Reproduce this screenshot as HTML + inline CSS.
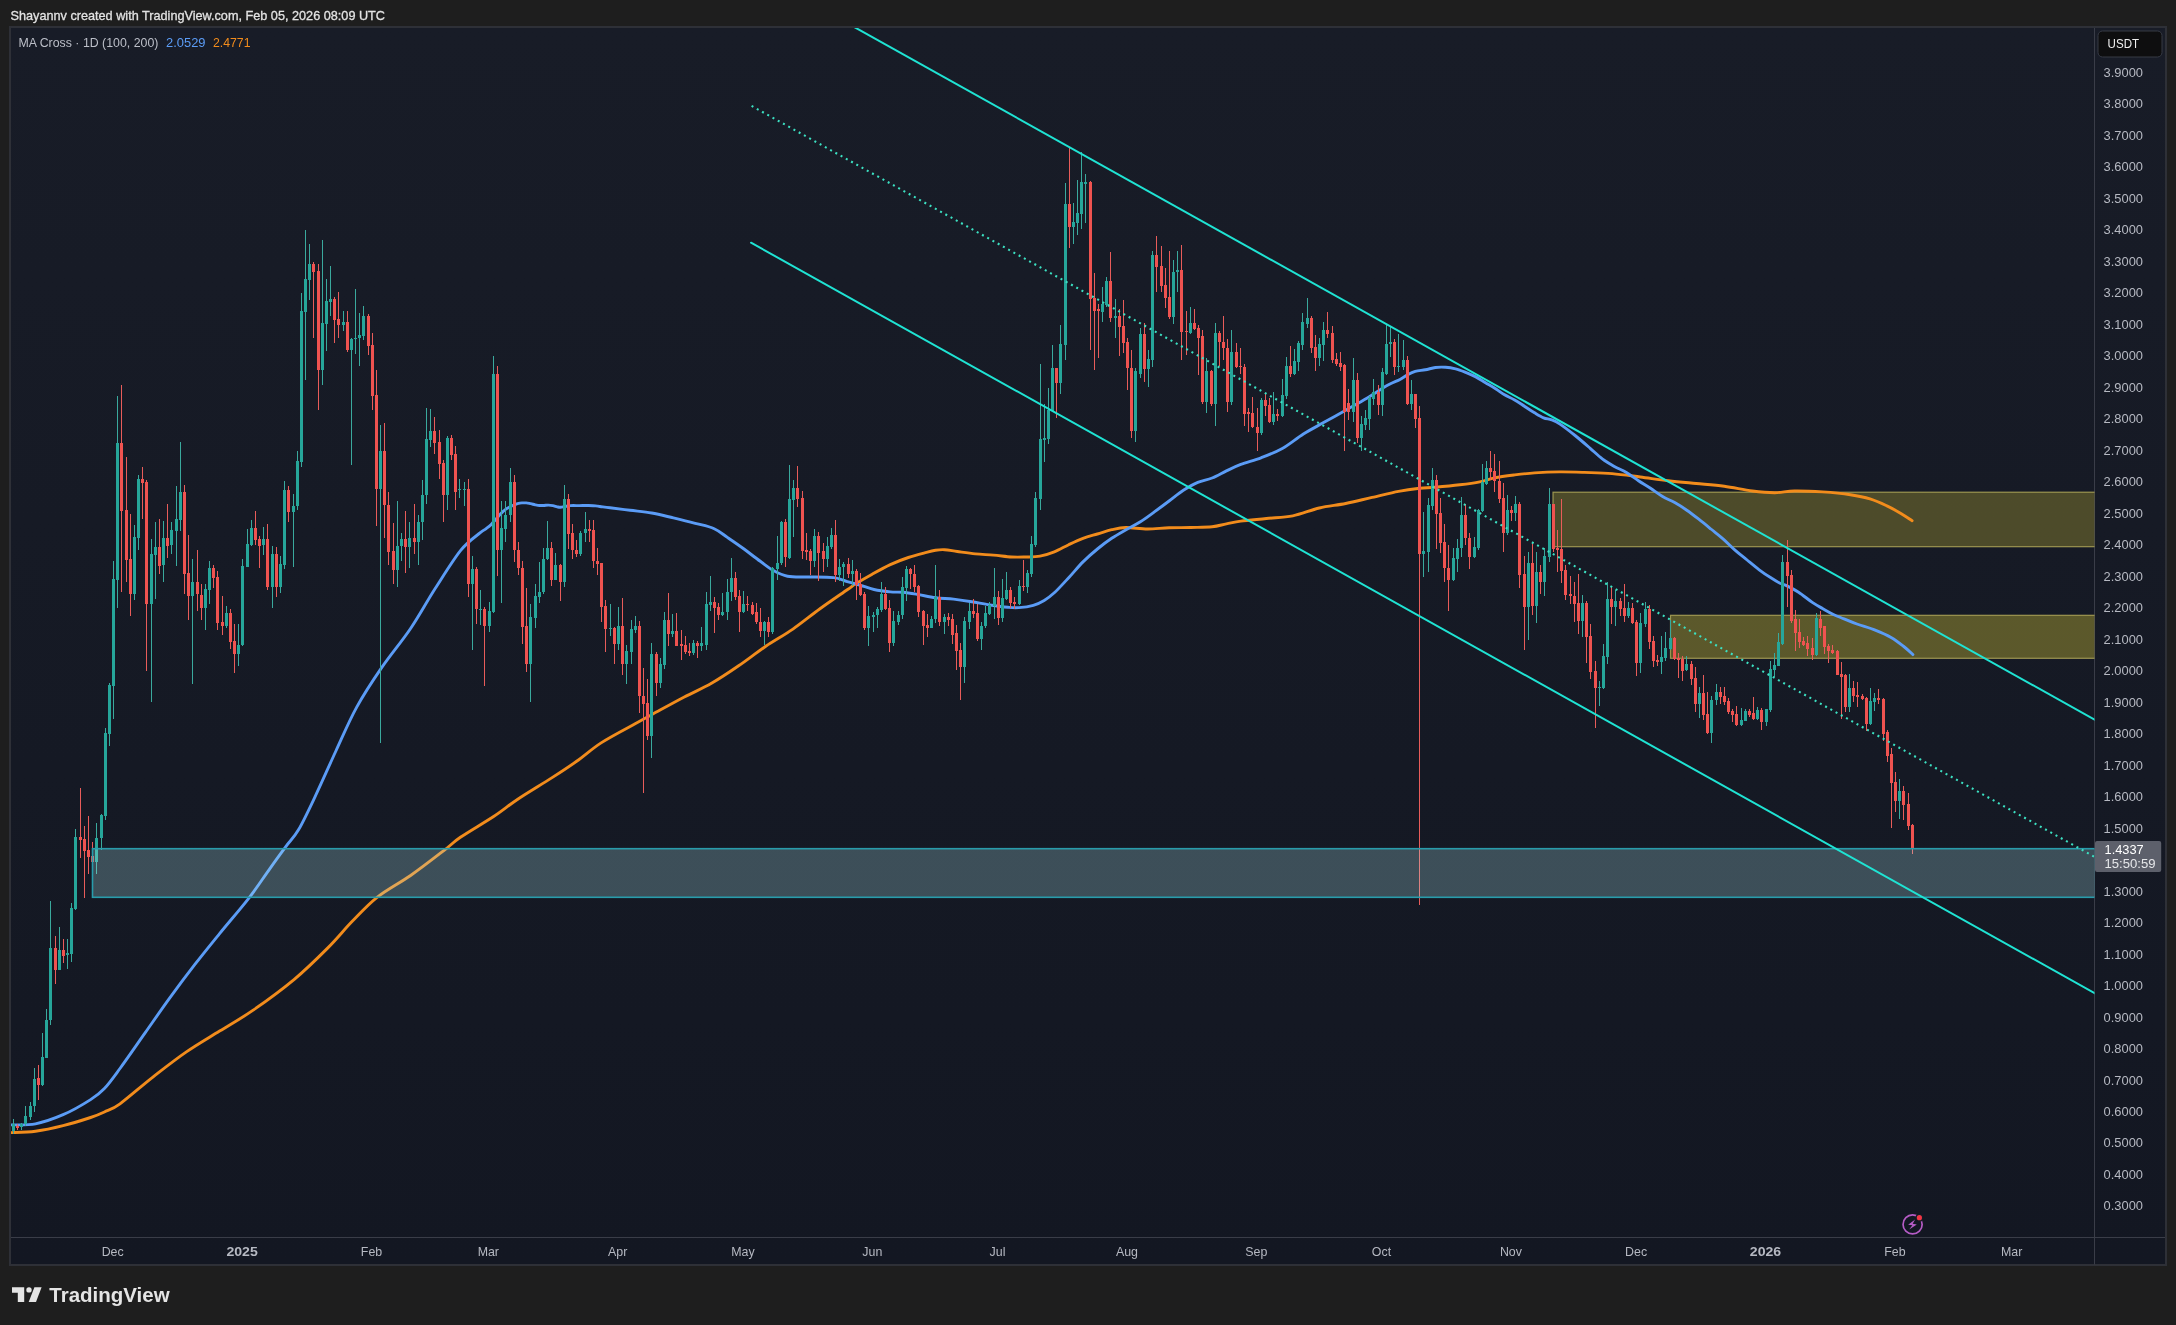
<!DOCTYPE html><html><head><meta charset="utf-8"><title>TradingView chart</title>
<style>html,body{margin:0;padding:0;background:#1e1e1e;overflow:hidden}svg{display:block;will-change:transform}text{font-family:"Liberation Sans",sans-serif}</style></head><body>
<svg width="2176" height="1325" viewBox="0 0 2176 1325">
<defs><linearGradient id="bg" x1="0" y1="0" x2="0" y2="1"><stop offset="0" stop-color="#181c27"/><stop offset="1" stop-color="#131722"/></linearGradient>
<clipPath id="pane"><rect x="11" y="28" width="2083.5" height="1209.5"/></clipPath><clipPath id="yz"><rect x="1553.6" y="492.8" width="545" height="53.3"/><rect x="1671.1" y="615.9" width="430" height="41.8"/></clipPath></defs>
<rect width="2176" height="1325" fill="#1e1e1e"/>
<text id="hdr" x="10.5" y="20.3" font-size="13.6" fill="#e3e3e3" stroke="#e3e3e3" stroke-width="0.3" textLength="374.5" lengthAdjust="spacingAndGlyphs">Shayannv created with TradingView.com, Feb 05, 2026 08:09 UTC</text>
<rect x="10" y="27" width="2156" height="1238" fill="url(#bg)" stroke="#2e3037" stroke-width="2"/>
<line x1="11" y1="1237.5" x2="2165" y2="1237.5" stroke="#3a3d48" stroke-width="1"/>
<line x1="2094.5" y1="28" x2="2094.5" y2="1264.5" stroke="#3a3d48" stroke-width="1"/>
<g clip-path="url(#pane)">
<rect x="1553" y="492.2" width="545" height="54.5" fill="rgba(255,235,59,0.24)" stroke="rgba(190,180,95,0.75)" stroke-width="1.2"/>
<rect x="1670.5" y="615.3" width="430" height="43" fill="rgba(255,235,59,0.30)" stroke="rgba(190,180,95,0.75)" stroke-width="1.2"/>
<path d="M10.8,1132.6C14.9,1132.4 26.8,1132.3 35.5,1131.2C44.2,1130.1 53.9,1128.0 63.1,1125.7C72.3,1123.4 83.7,1119.8 90.6,1117.5C97.5,1115.2 99.5,1114.3 104.4,1112.0C109.3,1109.7 111.9,1109.7 120.0,1103.8C128.1,1097.9 142.1,1085.4 153.2,1076.8C164.3,1068.2 175.3,1059.5 186.4,1051.9C197.5,1044.3 208.5,1038.0 219.6,1031.1C230.7,1024.2 240.4,1019.0 252.8,1010.4C265.2,1001.8 281.8,989.7 294.3,979.3C306.8,968.9 317.9,957.8 327.6,948.1C337.3,938.4 344.2,929.6 352.5,921.1C360.8,912.6 367.7,904.7 377.4,897.1C387.1,889.5 399.5,883.2 410.6,875.5C421.7,867.8 435.5,857.0 443.8,850.6C452.1,844.2 452.1,843.0 460.4,837.3C468.7,831.6 483.9,822.9 493.6,816.5C503.3,810.1 508.8,805.1 518.5,798.7C528.2,792.3 542.0,784.1 551.7,777.9C561.4,771.7 568.3,767.2 576.6,761.3C584.9,755.4 591.8,748.8 601.5,742.6C611.2,736.4 626.3,728.6 634.7,724.0C643.1,719.4 643.4,719.2 651.7,714.7C660.0,710.2 674.3,702.2 684.3,697.0C694.3,691.8 702.5,688.5 711.5,683.3C720.5,678.1 729.6,672.0 738.6,665.8C747.6,659.6 756.8,652.4 765.8,646.3C774.8,640.2 783.9,635.4 792.9,629.1C801.9,622.9 811.0,615.3 820.0,608.8C829.0,602.2 841.2,594.0 847.2,589.8C853.2,585.6 851.7,586.2 855.9,583.6C860.1,581.0 866.5,577.4 872.2,574.2C877.9,571.0 884.3,567.4 890.3,564.6C896.3,561.8 902.4,559.5 908.4,557.5C914.4,555.5 922.0,553.6 926.5,552.4C931.0,551.2 932.5,550.8 935.5,550.3C938.5,549.8 941.0,549.5 944.6,549.7C948.2,549.9 952.2,550.8 957.3,551.5C962.4,552.2 969.4,553.3 975.4,553.9C981.4,554.5 987.5,554.6 993.5,555.1C999.5,555.6 1006.2,556.7 1011.6,557.0C1017.0,557.3 1021.3,557.1 1026.0,557.0C1030.7,556.9 1035.3,557.1 1040.0,556.2C1044.7,555.4 1049.5,553.8 1054.3,551.9C1059.1,550.0 1063.9,547.0 1068.7,544.7C1073.5,542.4 1078.2,540.1 1083.0,538.3C1087.8,536.5 1092.6,535.4 1097.4,534.0C1102.2,532.6 1106.9,530.8 1111.7,529.7C1116.5,528.6 1120.0,527.6 1126.0,527.5C1132.0,527.4 1140.4,529.0 1147.6,529.0C1154.8,529.0 1161.9,528.0 1169.1,527.8C1176.3,527.5 1183.4,527.7 1190.6,527.5C1197.8,527.3 1206.1,527.4 1212.1,526.8C1218.1,526.2 1221.6,524.8 1226.4,523.9C1231.2,523.0 1234.1,522.0 1240.8,521.1C1247.5,520.2 1257.7,519.4 1266.4,518.5C1275.1,517.6 1284.0,517.6 1292.8,515.9C1301.6,514.1 1310.5,510.1 1319.3,508.0C1328.1,505.9 1336.9,505.3 1345.7,503.5C1354.5,501.7 1363.3,499.4 1372.1,497.4C1380.9,495.4 1390.6,492.8 1398.5,491.3C1406.4,489.8 1413.6,488.9 1419.7,488.2C1425.8,487.5 1428.2,487.9 1434.9,487.3C1441.6,486.7 1452.3,485.7 1459.8,484.8C1467.3,483.9 1474.0,483.0 1479.8,481.8C1485.6,480.6 1488.9,479.0 1494.7,477.8C1500.5,476.6 1508.1,475.7 1514.7,474.9C1521.3,474.1 1527.1,473.4 1534.6,472.9C1542.1,472.4 1551.2,472.0 1559.5,471.9C1567.8,471.8 1575.6,472.1 1584.4,472.4C1593.2,472.7 1602.8,472.8 1612.1,473.6C1621.4,474.4 1630.8,475.8 1640.2,477.0C1649.6,478.2 1658.9,479.6 1668.2,480.7C1677.5,481.8 1686.9,482.6 1696.2,483.5C1705.5,484.4 1715.0,485.1 1724.3,486.3C1733.6,487.6 1743.9,489.9 1752.3,491.0C1760.7,492.1 1767.7,492.7 1774.7,492.7C1781.7,492.7 1786.5,491.1 1794.4,491.0C1802.4,490.9 1813.1,491.3 1822.4,491.9C1831.7,492.5 1842.5,493.5 1850.4,494.7C1858.3,495.9 1863.9,497.0 1870.0,498.9C1876.1,500.8 1881.8,503.5 1886.9,505.9C1892.1,508.3 1896.7,511.0 1900.9,513.5C1905.1,516.0 1910.2,519.5 1912.1,520.7" fill="none" stroke="#f28c1c" stroke-width="2.9" stroke-linejoin="round" stroke-linecap="round"/><path d="M10.8,1124.9C14.9,1124.7 26.8,1125.5 35.5,1123.8C44.2,1122.1 53.9,1118.7 63.1,1114.7C72.3,1110.7 83.7,1104.0 90.6,1099.6C97.5,1095.2 99.5,1093.7 104.4,1088.5C109.3,1083.3 113.2,1077.7 120.0,1068.5C126.8,1059.3 136.6,1045.0 144.9,1033.2C153.2,1021.4 161.5,1009.3 169.8,997.9C178.1,986.5 186.4,975.4 194.7,964.7C203.0,954.0 210.6,944.7 219.6,933.6C228.6,922.5 240.4,909.0 248.7,898.3C257.0,887.6 263.2,877.9 269.4,869.3C275.6,860.6 281.1,853.0 286.0,846.4C290.9,839.8 293.6,838.1 298.5,829.8C303.4,821.5 308.9,809.7 315.1,796.6C321.3,783.5 329.0,765.9 335.9,751.0C342.8,736.1 349.0,721.2 356.6,707.4C364.2,693.5 372.5,681.0 381.5,667.9C390.5,654.8 401.6,641.8 410.6,628.5C419.6,615.2 427.1,601.0 435.5,588.0C443.9,575.0 453.3,559.6 460.7,550.4C468.1,541.2 475.9,536.4 480.0,532.9C484.1,529.4 483.7,530.5 485.5,529.1C487.3,527.7 489.4,526.3 491.0,524.7C492.6,523.1 494.0,521.3 495.4,519.7C496.8,518.1 497.9,516.8 499.3,515.3C500.7,513.8 502.1,512.2 503.7,510.9C505.3,509.6 507.1,508.5 508.7,507.6C510.3,506.7 511.6,506.0 513.1,505.4C514.6,504.8 516.0,504.1 517.5,503.7C519.0,503.3 520.4,503.0 521.9,502.9C523.4,502.8 524.8,502.8 526.3,502.9C527.8,503.0 529.2,503.4 530.7,503.7C532.2,504.0 533.7,504.5 535.2,504.8C536.7,505.1 538.1,505.4 539.6,505.5C541.1,505.6 542.5,505.6 544.0,505.5C545.5,505.4 546.9,505.1 548.4,505.1C549.9,505.1 551.3,505.3 552.8,505.6C554.3,505.9 555.9,506.5 557.2,506.8C558.5,507.1 559.2,507.4 560.5,507.3C561.8,507.2 563.2,506.8 564.9,506.5C566.6,506.2 568.1,505.8 570.5,505.6C572.9,505.5 576.4,505.6 579.3,505.6C582.1,505.6 584.9,505.4 587.6,505.5C590.4,505.6 593.7,505.7 595.8,505.9C597.9,506.1 597.6,506.2 600.0,506.5C602.4,506.8 605.0,507.2 610.0,507.8C615.0,508.4 623.0,509.4 630.0,510.3C637.0,511.2 644.5,511.7 651.7,513.0C658.9,514.3 666.1,516.2 673.4,517.9C680.6,519.6 688.4,521.5 695.2,523.3C702.0,525.1 708.8,526.3 714.2,528.7C719.6,531.1 722.7,534.2 727.7,537.6C732.7,541.0 738.6,545.0 744.0,549.0C749.4,553.0 755.3,557.7 760.3,561.3C765.3,564.9 769.4,568.3 773.9,570.8C778.4,573.3 782.1,575.2 787.5,576.2C792.9,577.2 798.8,576.8 806.5,577.0C814.2,577.2 826.8,576.8 833.6,577.6C840.4,578.4 842.9,580.4 847.2,581.6C851.5,582.8 855.0,583.7 859.5,585.0C864.0,586.3 868.9,588.4 874.0,589.5C879.1,590.6 885.5,591.4 890.3,591.9C895.1,592.4 898.4,591.9 902.9,592.3C907.4,592.7 912.0,593.5 917.4,594.4C922.8,595.3 929.5,596.9 935.5,597.7C941.5,598.5 947.6,598.4 953.6,599.1C959.6,599.8 965.7,600.7 971.7,601.7C977.7,602.7 983.8,604.1 989.8,605.0C995.8,605.9 1003.2,606.9 1008.0,607.3C1012.8,607.7 1014.6,607.9 1018.8,607.6C1023.0,607.3 1029.1,606.5 1033.3,605.3C1037.5,604.1 1040.7,602.5 1044.2,600.4C1047.7,598.3 1050.2,596.6 1054.3,592.8C1058.4,589.0 1063.9,582.9 1068.7,577.7C1073.5,572.6 1078.2,566.7 1083.0,561.9C1087.8,557.1 1092.6,552.9 1097.4,549.0C1102.2,545.1 1106.9,541.5 1111.7,538.3C1116.5,535.1 1121.2,532.5 1126.0,529.7C1130.8,527.0 1135.6,524.8 1140.4,521.8C1145.2,518.8 1149.9,515.2 1154.7,511.7C1159.5,508.2 1164.3,504.6 1169.1,501.0C1173.9,497.4 1178.6,493.3 1183.4,490.2C1188.2,487.1 1193.0,484.3 1197.8,482.3C1202.6,480.3 1207.3,479.9 1212.1,478.0C1216.9,476.1 1221.6,473.2 1226.4,470.9C1231.2,468.6 1235.0,466.6 1240.8,464.4C1246.6,462.2 1254.2,460.4 1261.1,457.8C1268.0,455.2 1275.2,452.5 1282.3,448.5C1289.3,444.5 1296.4,438.4 1303.4,434.0C1310.4,429.6 1317.5,426.1 1324.5,422.1C1331.5,418.1 1338.7,414.2 1345.7,410.2C1352.8,406.2 1359.8,402.5 1366.8,398.3C1373.8,394.1 1382.5,388.2 1388.0,385.1C1393.5,382.0 1396.7,381.2 1400.0,379.4C1403.3,377.6 1405.6,375.8 1408.1,374.4C1410.6,373.0 1412.3,372.1 1415.2,371.3C1418.1,370.5 1421.9,370.4 1425.3,369.8C1428.7,369.2 1432.0,367.9 1435.4,367.5C1438.8,367.1 1442.1,367.1 1445.5,367.3C1448.9,367.5 1452.2,368.0 1455.6,368.8C1459.0,369.6 1462.3,371.0 1465.7,372.4C1469.1,373.8 1472.4,375.1 1475.8,376.9C1479.2,378.7 1482.5,381.0 1485.9,383.0C1489.3,385.0 1493.0,387.1 1496.0,389.0C1499.0,390.9 1501.1,392.8 1504.1,394.6C1507.1,396.4 1510.8,397.8 1514.2,399.7C1517.6,401.6 1521.0,404.0 1524.4,406.2C1527.8,408.4 1531.3,410.9 1534.5,412.8C1537.7,414.7 1540.7,416.6 1543.6,417.8C1546.5,419.0 1549.0,418.8 1551.7,419.9C1554.4,420.9 1556.1,421.5 1560.0,424.1C1563.9,426.7 1570.1,431.5 1575.1,435.5C1580.1,439.5 1585.7,444.4 1590.2,448.3C1594.7,452.2 1598.3,455.8 1602.3,458.8C1606.3,461.8 1610.3,464.1 1614.3,466.4C1618.3,468.7 1622.4,470.0 1626.4,472.4C1630.4,474.8 1634.5,478.0 1638.5,480.7C1642.5,483.4 1646.5,485.6 1650.5,488.3C1654.5,491.0 1658.6,494.2 1662.6,496.6C1666.6,499.0 1670.7,500.3 1674.7,502.6C1678.7,504.9 1682.8,507.4 1686.8,510.2C1690.8,513.0 1694.8,516.1 1698.8,519.2C1702.8,522.3 1706.9,525.7 1710.9,529.0C1714.9,532.3 1719.0,535.3 1723.0,538.8C1727.0,542.3 1731.0,546.6 1735.0,550.1C1739.0,553.6 1743.1,556.7 1747.1,560.0C1751.1,563.3 1755.2,566.8 1759.2,569.8C1763.2,572.8 1767.8,575.9 1771.3,578.1C1774.8,580.4 1777.5,582.0 1780.0,583.3C1782.5,584.5 1783.4,584.1 1786.5,585.6C1789.6,587.1 1794.3,589.4 1798.6,592.2C1802.9,595.0 1808.2,599.6 1812.3,602.4C1816.3,605.1 1819.4,606.7 1822.9,608.7C1826.4,610.7 1829.9,612.8 1833.4,614.5C1836.9,616.2 1840.1,617.2 1844.0,618.8C1847.9,620.4 1851.7,622.1 1856.9,624.0C1862.1,625.9 1869.4,627.9 1875.2,630.2C1881.0,632.5 1886.7,635.0 1891.5,637.7C1896.3,640.4 1900.2,643.7 1903.8,646.5C1907.4,649.3 1911.4,653.2 1912.9,654.6" fill="none" stroke="#5b9cf6" stroke-width="2.9" stroke-linejoin="round" stroke-linecap="round"/>
<rect x="13" y="1119" width="1" height="15" fill="#3aa99d"/><rect x="12" y="1124" width="3" height="7" fill="#26a69a"/>
<rect x="17" y="1124" width="1" height="6" fill="#e85c5a"/><rect x="16" y="1126" width="3" height="2" fill="#ef5350"/>
<rect x="21" y="1123" width="1" height="7" fill="#3aa99d"/><rect x="20" y="1124" width="3" height="3" fill="#26a69a"/>
<rect x="25" y="1106" width="1" height="20" fill="#3aa99d"/><rect x="24" y="1116" width="3" height="8" fill="#26a69a"/>
<rect x="30" y="1102" width="1" height="18" fill="#3aa99d"/><rect x="29" y="1106" width="3" height="11" fill="#26a69a"/>
<rect x="34" y="1068" width="1" height="44" fill="#3aa99d"/><rect x="33" y="1079" width="3" height="27" fill="#26a69a"/>
<rect x="38" y="1065" width="1" height="35" fill="#e85c5a"/><rect x="37" y="1078" width="3" height="7" fill="#ef5350"/>
<rect x="42" y="1033" width="1" height="53" fill="#3aa99d"/><rect x="41" y="1057" width="3" height="28" fill="#26a69a"/>
<rect x="46" y="1009" width="1" height="49" fill="#3aa99d"/><rect x="45" y="1020" width="3" height="38" fill="#26a69a"/>
<rect x="50" y="901" width="1" height="124" fill="#3aa99d"/><rect x="49" y="948" width="3" height="72" fill="#26a69a"/>
<rect x="55" y="936" width="1" height="48" fill="#e85c5a"/><rect x="54" y="948" width="3" height="22" fill="#ef5350"/>
<rect x="59" y="927" width="1" height="43" fill="#3aa99d"/><rect x="58" y="950" width="3" height="20" fill="#26a69a"/>
<rect x="63" y="939" width="1" height="24" fill="#e85c5a"/><rect x="62" y="950" width="3" height="6" fill="#ef5350"/>
<rect x="67" y="939" width="1" height="30" fill="#3aa99d"/><rect x="66" y="953" width="3" height="2" fill="#26a69a"/>
<rect x="71" y="903" width="1" height="59" fill="#3aa99d"/><rect x="70" y="908" width="3" height="46" fill="#26a69a"/>
<rect x="75" y="829" width="1" height="81" fill="#3aa99d"/><rect x="74" y="837" width="3" height="72" fill="#26a69a"/>
<rect x="80" y="788" width="1" height="70" fill="#e85c5a"/><rect x="79" y="837" width="3" height="3" fill="#ef5350"/>
<rect x="84" y="826" width="1" height="72" fill="#e85c5a"/><rect x="83" y="839" width="3" height="12" fill="#ef5350"/>
<rect x="88" y="816" width="1" height="58" fill="#e85c5a"/><rect x="87" y="850" width="3" height="7" fill="#ef5350"/>
<rect x="92" y="842" width="1" height="21" fill="#e85c5a"/><rect x="91" y="856" width="3" height="6" fill="#ef5350"/>
<rect x="96" y="823" width="1" height="51" fill="#3aa99d"/><rect x="95" y="838" width="3" height="24" fill="#26a69a"/>
<rect x="101" y="814" width="1" height="36" fill="#3aa99d"/><rect x="100" y="815" width="3" height="23" fill="#26a69a"/>
<rect x="105" y="728" width="1" height="92" fill="#3aa99d"/><rect x="104" y="733" width="3" height="83" fill="#26a69a"/>
<rect x="109" y="683" width="1" height="63" fill="#3aa99d"/><rect x="108" y="685" width="3" height="49" fill="#26a69a"/>
<rect x="113" y="561" width="1" height="158" fill="#3aa99d"/><rect x="112" y="579" width="3" height="107" fill="#26a69a"/>
<rect x="117" y="396" width="1" height="212" fill="#3aa99d"/><rect x="116" y="443" width="3" height="137" fill="#26a69a"/>
<rect x="121" y="385" width="1" height="207" fill="#e85c5a"/><rect x="120" y="443" width="3" height="68" fill="#ef5350"/>
<rect x="126" y="457" width="1" height="125" fill="#e85c5a"/><rect x="125" y="510" width="3" height="50" fill="#ef5350"/>
<rect x="130" y="514" width="1" height="102" fill="#e85c5a"/><rect x="129" y="559" width="3" height="35" fill="#ef5350"/>
<rect x="134" y="525" width="1" height="75" fill="#3aa99d"/><rect x="133" y="537" width="3" height="57" fill="#26a69a"/>
<rect x="138" y="475" width="1" height="75" fill="#3aa99d"/><rect x="137" y="479" width="3" height="59" fill="#26a69a"/>
<rect x="142" y="467" width="1" height="52" fill="#e85c5a"/><rect x="141" y="479" width="3" height="4" fill="#ef5350"/>
<rect x="146" y="480" width="1" height="191" fill="#e85c5a"/><rect x="145" y="482" width="3" height="122" fill="#ef5350"/>
<rect x="151" y="539" width="1" height="163" fill="#3aa99d"/><rect x="150" y="554" width="3" height="50" fill="#26a69a"/>
<rect x="155" y="522" width="1" height="77" fill="#3aa99d"/><rect x="154" y="547" width="3" height="8" fill="#26a69a"/>
<rect x="159" y="519" width="1" height="55" fill="#e85c5a"/><rect x="158" y="547" width="3" height="19" fill="#ef5350"/>
<rect x="163" y="521" width="1" height="61" fill="#3aa99d"/><rect x="162" y="538" width="3" height="27" fill="#26a69a"/>
<rect x="167" y="504" width="1" height="54" fill="#e85c5a"/><rect x="166" y="538" width="3" height="8" fill="#ef5350"/>
<rect x="171" y="522" width="1" height="32" fill="#3aa99d"/><rect x="170" y="530" width="3" height="15" fill="#26a69a"/>
<rect x="176" y="486" width="1" height="80" fill="#3aa99d"/><rect x="175" y="519" width="3" height="12" fill="#26a69a"/>
<rect x="180" y="442" width="1" height="89" fill="#3aa99d"/><rect x="179" y="492" width="3" height="28" fill="#26a69a"/>
<rect x="184" y="485" width="1" height="109" fill="#e85c5a"/><rect x="183" y="492" width="3" height="82" fill="#ef5350"/>
<rect x="188" y="535" width="1" height="85" fill="#e85c5a"/><rect x="187" y="573" width="3" height="23" fill="#ef5350"/>
<rect x="192" y="559" width="1" height="125" fill="#3aa99d"/><rect x="191" y="582" width="3" height="14" fill="#26a69a"/>
<rect x="197" y="550" width="1" height="61" fill="#e85c5a"/><rect x="196" y="582" width="3" height="12" fill="#ef5350"/>
<rect x="201" y="584" width="1" height="36" fill="#e85c5a"/><rect x="200" y="595" width="3" height="13" fill="#ef5350"/>
<rect x="205" y="584" width="1" height="46" fill="#3aa99d"/><rect x="204" y="589" width="3" height="19" fill="#26a69a"/>
<rect x="209" y="561" width="1" height="43" fill="#3aa99d"/><rect x="208" y="568" width="3" height="22" fill="#26a69a"/>
<rect x="213" y="565" width="1" height="23" fill="#e85c5a"/><rect x="212" y="568" width="3" height="10" fill="#ef5350"/>
<rect x="217" y="571" width="1" height="59" fill="#e85c5a"/><rect x="216" y="577" width="3" height="46" fill="#ef5350"/>
<rect x="222" y="596" width="1" height="39" fill="#e85c5a"/><rect x="221" y="622" width="3" height="4" fill="#ef5350"/>
<rect x="226" y="606" width="1" height="22" fill="#3aa99d"/><rect x="225" y="613" width="3" height="13" fill="#26a69a"/>
<rect x="230" y="609" width="1" height="40" fill="#e85c5a"/><rect x="229" y="613" width="3" height="29" fill="#ef5350"/>
<rect x="234" y="624" width="1" height="49" fill="#e85c5a"/><rect x="233" y="641" width="3" height="13" fill="#ef5350"/>
<rect x="238" y="624" width="1" height="42" fill="#3aa99d"/><rect x="237" y="645" width="3" height="9" fill="#26a69a"/>
<rect x="242" y="559" width="1" height="87" fill="#3aa99d"/><rect x="241" y="566" width="3" height="79" fill="#26a69a"/>
<rect x="247" y="529" width="1" height="38" fill="#3aa99d"/><rect x="246" y="544" width="3" height="23" fill="#26a69a"/>
<rect x="251" y="520" width="1" height="26" fill="#3aa99d"/><rect x="250" y="528" width="3" height="17" fill="#26a69a"/>
<rect x="255" y="511" width="1" height="34" fill="#e85c5a"/><rect x="254" y="528" width="3" height="12" fill="#ef5350"/>
<rect x="259" y="536" width="1" height="32" fill="#e85c5a"/><rect x="258" y="539" width="3" height="7" fill="#ef5350"/>
<rect x="263" y="527" width="1" height="28" fill="#3aa99d"/><rect x="262" y="539" width="3" height="6" fill="#26a69a"/>
<rect x="267" y="524" width="1" height="66" fill="#e85c5a"/><rect x="266" y="539" width="3" height="48" fill="#ef5350"/>
<rect x="272" y="546" width="1" height="62" fill="#3aa99d"/><rect x="271" y="554" width="3" height="33" fill="#26a69a"/>
<rect x="276" y="547" width="1" height="50" fill="#e85c5a"/><rect x="275" y="554" width="3" height="33" fill="#ef5350"/>
<rect x="280" y="556" width="1" height="37" fill="#3aa99d"/><rect x="279" y="564" width="3" height="23" fill="#26a69a"/>
<rect x="284" y="481" width="1" height="88" fill="#3aa99d"/><rect x="283" y="490" width="3" height="75" fill="#26a69a"/>
<rect x="288" y="486" width="1" height="36" fill="#e85c5a"/><rect x="287" y="490" width="3" height="22" fill="#ef5350"/>
<rect x="293" y="494" width="1" height="73" fill="#3aa99d"/><rect x="292" y="506" width="3" height="6" fill="#26a69a"/>
<rect x="297" y="451" width="1" height="59" fill="#3aa99d"/><rect x="296" y="461" width="3" height="45" fill="#26a69a"/>
<rect x="301" y="293" width="1" height="174" fill="#3aa99d"/><rect x="300" y="311" width="3" height="151" fill="#26a69a"/>
<rect x="305" y="230" width="1" height="150" fill="#3aa99d"/><rect x="304" y="279" width="3" height="33" fill="#26a69a"/>
<rect x="309" y="244" width="1" height="56" fill="#3aa99d"/><rect x="308" y="264" width="3" height="16" fill="#26a69a"/>
<rect x="313" y="262" width="1" height="76" fill="#e85c5a"/><rect x="312" y="264" width="3" height="8" fill="#ef5350"/>
<rect x="318" y="264" width="1" height="146" fill="#e85c5a"/><rect x="317" y="271" width="3" height="99" fill="#ef5350"/>
<rect x="322" y="240" width="1" height="145" fill="#3aa99d"/><rect x="321" y="323" width="3" height="47" fill="#26a69a"/>
<rect x="326" y="279" width="1" height="72" fill="#3aa99d"/><rect x="325" y="301" width="3" height="23" fill="#26a69a"/>
<rect x="330" y="266" width="1" height="50" fill="#3aa99d"/><rect x="329" y="299" width="3" height="3" fill="#26a69a"/>
<rect x="334" y="297" width="1" height="46" fill="#e85c5a"/><rect x="333" y="299" width="3" height="21" fill="#ef5350"/>
<rect x="338" y="292" width="1" height="46" fill="#e85c5a"/><rect x="337" y="319" width="3" height="6" fill="#ef5350"/>
<rect x="343" y="311" width="1" height="20" fill="#3aa99d"/><rect x="342" y="322" width="3" height="3" fill="#26a69a"/>
<rect x="347" y="311" width="1" height="41" fill="#e85c5a"/><rect x="346" y="322" width="3" height="28" fill="#ef5350"/>
<rect x="351" y="338" width="1" height="127" fill="#3aa99d"/><rect x="350" y="339" width="3" height="11" fill="#26a69a"/>
<rect x="355" y="289" width="1" height="65" fill="#3aa99d"/><rect x="354" y="338" width="3" height="1" fill="#26a69a"/>
<rect x="359" y="313" width="1" height="53" fill="#3aa99d"/><rect x="358" y="335" width="3" height="3" fill="#26a69a"/>
<rect x="363" y="306" width="1" height="34" fill="#3aa99d"/><rect x="362" y="316" width="3" height="20" fill="#26a69a"/>
<rect x="368" y="314" width="1" height="41" fill="#e85c5a"/><rect x="367" y="316" width="3" height="30" fill="#ef5350"/>
<rect x="372" y="333" width="1" height="77" fill="#e85c5a"/><rect x="371" y="345" width="3" height="51" fill="#ef5350"/>
<rect x="376" y="370" width="1" height="156" fill="#e85c5a"/><rect x="375" y="395" width="3" height="94" fill="#ef5350"/>
<rect x="380" y="425" width="1" height="318" fill="#3aa99d"/><rect x="379" y="451" width="3" height="38" fill="#26a69a"/>
<rect x="384" y="423" width="1" height="115" fill="#e85c5a"/><rect x="383" y="451" width="3" height="54" fill="#ef5350"/>
<rect x="388" y="492" width="1" height="73" fill="#e85c5a"/><rect x="387" y="505" width="3" height="47" fill="#ef5350"/>
<rect x="393" y="523" width="1" height="61" fill="#e85c5a"/><rect x="392" y="551" width="3" height="19" fill="#ef5350"/>
<rect x="397" y="501" width="1" height="86" fill="#3aa99d"/><rect x="396" y="546" width="3" height="24" fill="#26a69a"/>
<rect x="401" y="533" width="1" height="28" fill="#3aa99d"/><rect x="400" y="539" width="3" height="7" fill="#26a69a"/>
<rect x="405" y="511" width="1" height="62" fill="#e85c5a"/><rect x="404" y="539" width="3" height="8" fill="#ef5350"/>
<rect x="409" y="522" width="1" height="46" fill="#3aa99d"/><rect x="408" y="538" width="3" height="9" fill="#26a69a"/>
<rect x="414" y="504" width="1" height="50" fill="#e85c5a"/><rect x="413" y="538" width="3" height="4" fill="#ef5350"/>
<rect x="418" y="515" width="1" height="50" fill="#3aa99d"/><rect x="417" y="522" width="3" height="20" fill="#26a69a"/>
<rect x="422" y="480" width="1" height="60" fill="#3aa99d"/><rect x="421" y="495" width="3" height="27" fill="#26a69a"/>
<rect x="426" y="408" width="1" height="96" fill="#3aa99d"/><rect x="425" y="439" width="3" height="56" fill="#26a69a"/>
<rect x="430" y="409" width="1" height="38" fill="#3aa99d"/><rect x="429" y="431" width="3" height="9" fill="#26a69a"/>
<rect x="434" y="417" width="1" height="37" fill="#e85c5a"/><rect x="433" y="431" width="3" height="12" fill="#ef5350"/>
<rect x="439" y="430" width="1" height="49" fill="#e85c5a"/><rect x="438" y="442" width="3" height="22" fill="#ef5350"/>
<rect x="443" y="460" width="1" height="62" fill="#e85c5a"/><rect x="442" y="463" width="3" height="32" fill="#ef5350"/>
<rect x="447" y="436" width="1" height="74" fill="#3aa99d"/><rect x="446" y="438" width="3" height="57" fill="#26a69a"/>
<rect x="451" y="435" width="1" height="25" fill="#e85c5a"/><rect x="450" y="438" width="3" height="17" fill="#ef5350"/>
<rect x="455" y="446" width="1" height="64" fill="#e85c5a"/><rect x="454" y="454" width="3" height="38" fill="#ef5350"/>
<rect x="459" y="479" width="1" height="19" fill="#3aa99d"/><rect x="458" y="489" width="3" height="1" fill="#26a69a"/>
<rect x="464" y="482" width="1" height="24" fill="#3aa99d"/><rect x="463" y="489" width="3" height="1" fill="#26a69a"/>
<rect x="468" y="479" width="1" height="118" fill="#e85c5a"/><rect x="467" y="489" width="3" height="95" fill="#ef5350"/>
<rect x="472" y="556" width="1" height="94" fill="#3aa99d"/><rect x="471" y="569" width="3" height="15" fill="#26a69a"/>
<rect x="476" y="567" width="1" height="57" fill="#e85c5a"/><rect x="475" y="569" width="3" height="40" fill="#ef5350"/>
<rect x="480" y="590" width="1" height="35" fill="#3aa99d"/><rect x="479" y="609" width="3" height="1" fill="#26a69a"/>
<rect x="484" y="607" width="1" height="79" fill="#e85c5a"/><rect x="483" y="609" width="3" height="17" fill="#ef5350"/>
<rect x="489" y="602" width="1" height="30" fill="#3aa99d"/><rect x="488" y="611" width="3" height="15" fill="#26a69a"/>
<rect x="493" y="356" width="1" height="257" fill="#3aa99d"/><rect x="492" y="374" width="3" height="238" fill="#26a69a"/>
<rect x="497" y="366" width="1" height="210" fill="#e85c5a"/><rect x="496" y="374" width="3" height="176" fill="#ef5350"/>
<rect x="501" y="501" width="1" height="102" fill="#3aa99d"/><rect x="500" y="528" width="3" height="22" fill="#26a69a"/>
<rect x="505" y="501" width="1" height="41" fill="#3aa99d"/><rect x="504" y="515" width="3" height="14" fill="#26a69a"/>
<rect x="510" y="468" width="1" height="54" fill="#3aa99d"/><rect x="509" y="482" width="3" height="33" fill="#26a69a"/>
<rect x="514" y="475" width="1" height="87" fill="#e85c5a"/><rect x="513" y="482" width="3" height="68" fill="#ef5350"/>
<rect x="518" y="542" width="1" height="33" fill="#e85c5a"/><rect x="517" y="550" width="3" height="18" fill="#ef5350"/>
<rect x="522" y="561" width="1" height="83" fill="#e85c5a"/><rect x="521" y="568" width="3" height="59" fill="#ef5350"/>
<rect x="526" y="588" width="1" height="84" fill="#e85c5a"/><rect x="525" y="626" width="3" height="38" fill="#ef5350"/>
<rect x="530" y="604" width="1" height="98" fill="#3aa99d"/><rect x="529" y="617" width="3" height="47" fill="#26a69a"/>
<rect x="535" y="584" width="1" height="44" fill="#3aa99d"/><rect x="534" y="596" width="3" height="22" fill="#26a69a"/>
<rect x="539" y="562" width="1" height="41" fill="#3aa99d"/><rect x="538" y="592" width="3" height="5" fill="#26a69a"/>
<rect x="543" y="548" width="1" height="46" fill="#3aa99d"/><rect x="542" y="559" width="3" height="33" fill="#26a69a"/>
<rect x="547" y="521" width="1" height="39" fill="#3aa99d"/><rect x="546" y="548" width="3" height="11" fill="#26a69a"/>
<rect x="551" y="542" width="1" height="44" fill="#e85c5a"/><rect x="550" y="548" width="3" height="32" fill="#ef5350"/>
<rect x="555" y="553" width="1" height="27" fill="#3aa99d"/><rect x="554" y="565" width="3" height="15" fill="#26a69a"/>
<rect x="560" y="564" width="1" height="37" fill="#e85c5a"/><rect x="559" y="565" width="3" height="17" fill="#ef5350"/>
<rect x="564" y="485" width="1" height="102" fill="#3aa99d"/><rect x="563" y="499" width="3" height="83" fill="#26a69a"/>
<rect x="568" y="494" width="1" height="55" fill="#e85c5a"/><rect x="567" y="499" width="3" height="35" fill="#ef5350"/>
<rect x="572" y="524" width="1" height="35" fill="#e85c5a"/><rect x="571" y="533" width="3" height="17" fill="#ef5350"/>
<rect x="576" y="540" width="1" height="17" fill="#e85c5a"/><rect x="575" y="550" width="3" height="4" fill="#ef5350"/>
<rect x="580" y="531" width="1" height="25" fill="#3aa99d"/><rect x="579" y="533" width="3" height="21" fill="#26a69a"/>
<rect x="585" y="512" width="1" height="30" fill="#3aa99d"/><rect x="584" y="529" width="3" height="4" fill="#26a69a"/>
<rect x="589" y="520" width="1" height="22" fill="#e85c5a"/><rect x="588" y="529" width="3" height="2" fill="#ef5350"/>
<rect x="593" y="520" width="1" height="48" fill="#e85c5a"/><rect x="592" y="530" width="3" height="31" fill="#ef5350"/>
<rect x="597" y="548" width="1" height="27" fill="#e85c5a"/><rect x="596" y="561" width="3" height="3" fill="#ef5350"/>
<rect x="601" y="563" width="1" height="59" fill="#e85c5a"/><rect x="600" y="563" width="3" height="44" fill="#ef5350"/>
<rect x="605" y="600" width="1" height="52" fill="#e85c5a"/><rect x="604" y="606" width="3" height="23" fill="#ef5350"/>
<rect x="610" y="604" width="1" height="32" fill="#3aa99d"/><rect x="609" y="628" width="3" height="1" fill="#26a69a"/>
<rect x="614" y="627" width="1" height="37" fill="#e85c5a"/><rect x="613" y="628" width="3" height="16" fill="#ef5350"/>
<rect x="618" y="607" width="1" height="43" fill="#3aa99d"/><rect x="617" y="626" width="3" height="18" fill="#26a69a"/>
<rect x="622" y="598" width="1" height="77" fill="#e85c5a"/><rect x="621" y="626" width="3" height="38" fill="#ef5350"/>
<rect x="626" y="645" width="1" height="39" fill="#3aa99d"/><rect x="625" y="651" width="3" height="13" fill="#26a69a"/>
<rect x="631" y="620" width="1" height="44" fill="#3aa99d"/><rect x="630" y="629" width="3" height="23" fill="#26a69a"/>
<rect x="635" y="616" width="1" height="17" fill="#3aa99d"/><rect x="634" y="626" width="3" height="4" fill="#26a69a"/>
<rect x="639" y="621" width="1" height="92" fill="#e85c5a"/><rect x="638" y="626" width="3" height="70" fill="#ef5350"/>
<rect x="643" y="668" width="1" height="125" fill="#e85c5a"/><rect x="642" y="696" width="3" height="8" fill="#ef5350"/>
<rect x="647" y="679" width="1" height="61" fill="#e85c5a"/><rect x="646" y="703" width="3" height="33" fill="#ef5350"/>
<rect x="651" y="643" width="1" height="115" fill="#3aa99d"/><rect x="650" y="654" width="3" height="82" fill="#26a69a"/>
<rect x="656" y="652" width="1" height="44" fill="#e85c5a"/><rect x="655" y="654" width="3" height="29" fill="#ef5350"/>
<rect x="660" y="658" width="1" height="30" fill="#3aa99d"/><rect x="659" y="664" width="3" height="19" fill="#26a69a"/>
<rect x="664" y="612" width="1" height="57" fill="#3aa99d"/><rect x="663" y="620" width="3" height="45" fill="#26a69a"/>
<rect x="668" y="593" width="1" height="53" fill="#e85c5a"/><rect x="667" y="620" width="3" height="14" fill="#ef5350"/>
<rect x="672" y="614" width="1" height="23" fill="#3aa99d"/><rect x="671" y="631" width="3" height="3" fill="#26a69a"/>
<rect x="676" y="613" width="1" height="33" fill="#e85c5a"/><rect x="675" y="631" width="3" height="15" fill="#ef5350"/>
<rect x="681" y="630" width="1" height="30" fill="#e85c5a"/><rect x="680" y="644" width="3" height="2" fill="#ef5350"/>
<rect x="685" y="636" width="1" height="18" fill="#e85c5a"/><rect x="684" y="645" width="3" height="7" fill="#ef5350"/>
<rect x="689" y="643" width="1" height="13" fill="#e85c5a"/><rect x="688" y="651" width="3" height="2" fill="#ef5350"/>
<rect x="693" y="640" width="1" height="15" fill="#3aa99d"/><rect x="692" y="643" width="3" height="10" fill="#26a69a"/>
<rect x="697" y="641" width="1" height="17" fill="#e85c5a"/><rect x="696" y="643" width="3" height="3" fill="#ef5350"/>
<rect x="701" y="627" width="1" height="24" fill="#3aa99d"/><rect x="700" y="643" width="3" height="3" fill="#26a69a"/>
<rect x="706" y="592" width="1" height="58" fill="#3aa99d"/><rect x="705" y="604" width="3" height="41" fill="#26a69a"/>
<rect x="710" y="576" width="1" height="35" fill="#3aa99d"/><rect x="709" y="602" width="3" height="3" fill="#26a69a"/>
<rect x="714" y="597" width="1" height="36" fill="#e85c5a"/><rect x="713" y="602" width="3" height="6" fill="#ef5350"/>
<rect x="718" y="603" width="1" height="17" fill="#e85c5a"/><rect x="717" y="607" width="3" height="8" fill="#ef5350"/>
<rect x="722" y="593" width="1" height="23" fill="#3aa99d"/><rect x="721" y="612" width="3" height="3" fill="#26a69a"/>
<rect x="727" y="579" width="1" height="41" fill="#3aa99d"/><rect x="726" y="592" width="3" height="20" fill="#26a69a"/>
<rect x="731" y="558" width="1" height="43" fill="#3aa99d"/><rect x="730" y="578" width="3" height="14" fill="#26a69a"/>
<rect x="735" y="572" width="1" height="28" fill="#e85c5a"/><rect x="734" y="578" width="3" height="19" fill="#ef5350"/>
<rect x="739" y="590" width="1" height="42" fill="#e85c5a"/><rect x="738" y="596" width="3" height="16" fill="#ef5350"/>
<rect x="743" y="591" width="1" height="22" fill="#3aa99d"/><rect x="742" y="604" width="3" height="8" fill="#26a69a"/>
<rect x="747" y="596" width="1" height="15" fill="#e85c5a"/><rect x="746" y="604" width="3" height="1" fill="#ef5350"/>
<rect x="752" y="602" width="1" height="13" fill="#e85c5a"/><rect x="751" y="605" width="3" height="9" fill="#ef5350"/>
<rect x="756" y="603" width="1" height="21" fill="#e85c5a"/><rect x="755" y="612" width="3" height="10" fill="#ef5350"/>
<rect x="760" y="608" width="1" height="29" fill="#e85c5a"/><rect x="759" y="622" width="3" height="9" fill="#ef5350"/>
<rect x="764" y="621" width="1" height="24" fill="#3aa99d"/><rect x="763" y="622" width="3" height="9" fill="#26a69a"/>
<rect x="768" y="617" width="1" height="20" fill="#e85c5a"/><rect x="767" y="622" width="3" height="10" fill="#ef5350"/>
<rect x="772" y="567" width="1" height="67" fill="#3aa99d"/><rect x="771" y="568" width="3" height="64" fill="#26a69a"/>
<rect x="777" y="536" width="1" height="44" fill="#3aa99d"/><rect x="776" y="563" width="3" height="6" fill="#26a69a"/>
<rect x="781" y="521" width="1" height="44" fill="#3aa99d"/><rect x="780" y="522" width="3" height="41" fill="#26a69a"/>
<rect x="785" y="519" width="1" height="48" fill="#e85c5a"/><rect x="784" y="522" width="3" height="35" fill="#ef5350"/>
<rect x="789" y="465" width="1" height="94" fill="#3aa99d"/><rect x="788" y="499" width="3" height="59" fill="#26a69a"/>
<rect x="793" y="480" width="1" height="57" fill="#3aa99d"/><rect x="792" y="488" width="3" height="12" fill="#26a69a"/>
<rect x="797" y="466" width="1" height="41" fill="#e85c5a"/><rect x="796" y="488" width="3" height="11" fill="#ef5350"/>
<rect x="802" y="491" width="1" height="68" fill="#e85c5a"/><rect x="801" y="498" width="3" height="53" fill="#ef5350"/>
<rect x="806" y="533" width="1" height="27" fill="#e85c5a"/><rect x="805" y="550" width="3" height="2" fill="#ef5350"/>
<rect x="810" y="549" width="1" height="26" fill="#e85c5a"/><rect x="809" y="551" width="3" height="10" fill="#ef5350"/>
<rect x="814" y="529" width="1" height="38" fill="#3aa99d"/><rect x="813" y="536" width="3" height="25" fill="#26a69a"/>
<rect x="818" y="532" width="1" height="49" fill="#e85c5a"/><rect x="817" y="536" width="3" height="17" fill="#ef5350"/>
<rect x="823" y="543" width="1" height="29" fill="#e85c5a"/><rect x="822" y="551" width="3" height="8" fill="#ef5350"/>
<rect x="827" y="537" width="1" height="30" fill="#3aa99d"/><rect x="826" y="546" width="3" height="13" fill="#26a69a"/>
<rect x="831" y="528" width="1" height="21" fill="#3aa99d"/><rect x="830" y="535" width="3" height="12" fill="#26a69a"/>
<rect x="835" y="520" width="1" height="62" fill="#e85c5a"/><rect x="834" y="535" width="3" height="40" fill="#ef5350"/>
<rect x="839" y="559" width="1" height="22" fill="#3aa99d"/><rect x="838" y="567" width="3" height="8" fill="#26a69a"/>
<rect x="843" y="562" width="1" height="24" fill="#3aa99d"/><rect x="842" y="564" width="3" height="3" fill="#26a69a"/>
<rect x="848" y="558" width="1" height="20" fill="#e85c5a"/><rect x="847" y="564" width="3" height="10" fill="#ef5350"/>
<rect x="852" y="560" width="1" height="26" fill="#3aa99d"/><rect x="851" y="571" width="3" height="3" fill="#26a69a"/>
<rect x="856" y="569" width="1" height="31" fill="#e85c5a"/><rect x="855" y="571" width="3" height="14" fill="#ef5350"/>
<rect x="860" y="573" width="1" height="23" fill="#e85c5a"/><rect x="859" y="584" width="3" height="11" fill="#ef5350"/>
<rect x="864" y="592" width="1" height="38" fill="#e85c5a"/><rect x="863" y="594" width="3" height="34" fill="#ef5350"/>
<rect x="868" y="606" width="1" height="40" fill="#3aa99d"/><rect x="867" y="616" width="3" height="12" fill="#26a69a"/>
<rect x="873" y="612" width="1" height="20" fill="#3aa99d"/><rect x="872" y="615" width="3" height="2" fill="#26a69a"/>
<rect x="877" y="607" width="1" height="21" fill="#3aa99d"/><rect x="876" y="609" width="3" height="6" fill="#26a69a"/>
<rect x="881" y="582" width="1" height="30" fill="#3aa99d"/><rect x="880" y="594" width="3" height="16" fill="#26a69a"/>
<rect x="885" y="587" width="1" height="23" fill="#e85c5a"/><rect x="884" y="594" width="3" height="15" fill="#ef5350"/>
<rect x="889" y="600" width="1" height="52" fill="#e85c5a"/><rect x="888" y="608" width="3" height="35" fill="#ef5350"/>
<rect x="893" y="611" width="1" height="35" fill="#3aa99d"/><rect x="892" y="621" width="3" height="22" fill="#26a69a"/>
<rect x="898" y="611" width="1" height="14" fill="#3aa99d"/><rect x="897" y="615" width="3" height="7" fill="#26a69a"/>
<rect x="902" y="577" width="1" height="42" fill="#3aa99d"/><rect x="901" y="587" width="3" height="28" fill="#26a69a"/>
<rect x="906" y="566" width="1" height="35" fill="#3aa99d"/><rect x="905" y="569" width="3" height="19" fill="#26a69a"/>
<rect x="910" y="568" width="1" height="21" fill="#e85c5a"/><rect x="909" y="569" width="3" height="5" fill="#ef5350"/>
<rect x="914" y="565" width="1" height="27" fill="#e85c5a"/><rect x="913" y="574" width="3" height="13" fill="#ef5350"/>
<rect x="918" y="585" width="1" height="32" fill="#e85c5a"/><rect x="917" y="586" width="3" height="26" fill="#ef5350"/>
<rect x="923" y="610" width="1" height="35" fill="#e85c5a"/><rect x="922" y="611" width="3" height="15" fill="#ef5350"/>
<rect x="927" y="614" width="1" height="23" fill="#e85c5a"/><rect x="926" y="625" width="3" height="3" fill="#ef5350"/>
<rect x="931" y="616" width="1" height="12" fill="#3aa99d"/><rect x="930" y="619" width="3" height="9" fill="#26a69a"/>
<rect x="935" y="565" width="1" height="58" fill="#3aa99d"/><rect x="934" y="597" width="3" height="22" fill="#26a69a"/>
<rect x="939" y="590" width="1" height="36" fill="#e85c5a"/><rect x="938" y="597" width="3" height="25" fill="#ef5350"/>
<rect x="944" y="614" width="1" height="20" fill="#3aa99d"/><rect x="943" y="617" width="3" height="5" fill="#26a69a"/>
<rect x="948" y="613" width="1" height="13" fill="#e85c5a"/><rect x="947" y="617" width="3" height="3" fill="#ef5350"/>
<rect x="952" y="614" width="1" height="30" fill="#e85c5a"/><rect x="951" y="619" width="3" height="16" fill="#ef5350"/>
<rect x="956" y="625" width="1" height="45" fill="#e85c5a"/><rect x="955" y="633" width="3" height="18" fill="#ef5350"/>
<rect x="960" y="643" width="1" height="57" fill="#e85c5a"/><rect x="959" y="650" width="3" height="17" fill="#ef5350"/>
<rect x="964" y="617" width="1" height="66" fill="#3aa99d"/><rect x="963" y="621" width="3" height="46" fill="#26a69a"/>
<rect x="969" y="603" width="1" height="26" fill="#3aa99d"/><rect x="968" y="611" width="3" height="11" fill="#26a69a"/>
<rect x="973" y="599" width="1" height="19" fill="#e85c5a"/><rect x="972" y="611" width="3" height="3" fill="#ef5350"/>
<rect x="977" y="604" width="1" height="37" fill="#e85c5a"/><rect x="976" y="613" width="3" height="26" fill="#ef5350"/>
<rect x="981" y="622" width="1" height="28" fill="#3aa99d"/><rect x="980" y="626" width="3" height="13" fill="#26a69a"/>
<rect x="985" y="606" width="1" height="22" fill="#3aa99d"/><rect x="984" y="613" width="3" height="13" fill="#26a69a"/>
<rect x="989" y="602" width="1" height="13" fill="#3aa99d"/><rect x="988" y="605" width="3" height="9" fill="#26a69a"/>
<rect x="994" y="568" width="1" height="51" fill="#3aa99d"/><rect x="993" y="597" width="3" height="9" fill="#26a69a"/>
<rect x="998" y="591" width="1" height="34" fill="#e85c5a"/><rect x="997" y="597" width="3" height="21" fill="#ef5350"/>
<rect x="1002" y="579" width="1" height="43" fill="#3aa99d"/><rect x="1001" y="598" width="3" height="20" fill="#26a69a"/>
<rect x="1006" y="572" width="1" height="28" fill="#3aa99d"/><rect x="1005" y="590" width="3" height="9" fill="#26a69a"/>
<rect x="1010" y="587" width="1" height="21" fill="#e85c5a"/><rect x="1009" y="590" width="3" height="13" fill="#ef5350"/>
<rect x="1014" y="597" width="1" height="12" fill="#e85c5a"/><rect x="1013" y="602" width="3" height="2" fill="#ef5350"/>
<rect x="1019" y="580" width="1" height="25" fill="#3aa99d"/><rect x="1018" y="586" width="3" height="18" fill="#26a69a"/>
<rect x="1023" y="560" width="1" height="31" fill="#e85c5a"/><rect x="1022" y="586" width="3" height="1" fill="#ef5350"/>
<rect x="1027" y="570" width="1" height="23" fill="#3aa99d"/><rect x="1026" y="573" width="3" height="14" fill="#26a69a"/>
<rect x="1031" y="536" width="1" height="41" fill="#3aa99d"/><rect x="1030" y="544" width="3" height="30" fill="#26a69a"/>
<rect x="1035" y="492" width="1" height="55" fill="#3aa99d"/><rect x="1034" y="498" width="3" height="47" fill="#26a69a"/>
<rect x="1040" y="364" width="1" height="146" fill="#3aa99d"/><rect x="1039" y="439" width="3" height="60" fill="#26a69a"/>
<rect x="1044" y="404" width="1" height="58" fill="#3aa99d"/><rect x="1043" y="438" width="3" height="2" fill="#26a69a"/>
<rect x="1048" y="388" width="1" height="56" fill="#3aa99d"/><rect x="1047" y="410" width="3" height="29" fill="#26a69a"/>
<rect x="1052" y="345" width="1" height="67" fill="#3aa99d"/><rect x="1051" y="368" width="3" height="43" fill="#26a69a"/>
<rect x="1056" y="368" width="1" height="50" fill="#e85c5a"/><rect x="1055" y="368" width="3" height="15" fill="#ef5350"/>
<rect x="1060" y="325" width="1" height="69" fill="#3aa99d"/><rect x="1059" y="344" width="3" height="39" fill="#26a69a"/>
<rect x="1065" y="183" width="1" height="177" fill="#3aa99d"/><rect x="1064" y="204" width="3" height="141" fill="#26a69a"/>
<rect x="1069" y="147" width="1" height="101" fill="#e85c5a"/><rect x="1068" y="204" width="3" height="23" fill="#ef5350"/>
<rect x="1073" y="203" width="1" height="41" fill="#3aa99d"/><rect x="1072" y="222" width="3" height="5" fill="#26a69a"/>
<rect x="1077" y="180" width="1" height="55" fill="#3aa99d"/><rect x="1076" y="213" width="3" height="10" fill="#26a69a"/>
<rect x="1081" y="152" width="1" height="77" fill="#3aa99d"/><rect x="1080" y="182" width="3" height="32" fill="#26a69a"/>
<rect x="1085" y="174" width="1" height="49" fill="#3aa99d"/><rect x="1084" y="182" width="3" height="2" fill="#26a69a"/>
<rect x="1090" y="181" width="1" height="169" fill="#e85c5a"/><rect x="1089" y="182" width="3" height="117" fill="#ef5350"/>
<rect x="1094" y="273" width="1" height="97" fill="#e85c5a"/><rect x="1093" y="298" width="3" height="13" fill="#ef5350"/>
<rect x="1098" y="304" width="1" height="54" fill="#e85c5a"/><rect x="1097" y="309" width="3" height="2" fill="#ef5350"/>
<rect x="1102" y="287" width="1" height="35" fill="#3aa99d"/><rect x="1101" y="304" width="3" height="8" fill="#26a69a"/>
<rect x="1106" y="277" width="1" height="30" fill="#3aa99d"/><rect x="1105" y="281" width="3" height="24" fill="#26a69a"/>
<rect x="1110" y="252" width="1" height="70" fill="#e85c5a"/><rect x="1109" y="281" width="3" height="37" fill="#ef5350"/>
<rect x="1115" y="299" width="1" height="39" fill="#3aa99d"/><rect x="1114" y="316" width="3" height="2" fill="#26a69a"/>
<rect x="1119" y="309" width="1" height="47" fill="#e85c5a"/><rect x="1118" y="316" width="3" height="11" fill="#ef5350"/>
<rect x="1123" y="300" width="1" height="53" fill="#e85c5a"/><rect x="1122" y="326" width="3" height="17" fill="#ef5350"/>
<rect x="1127" y="338" width="1" height="52" fill="#e85c5a"/><rect x="1126" y="342" width="3" height="26" fill="#ef5350"/>
<rect x="1131" y="350" width="1" height="88" fill="#e85c5a"/><rect x="1130" y="368" width="3" height="63" fill="#ef5350"/>
<rect x="1135" y="368" width="1" height="74" fill="#3aa99d"/><rect x="1134" y="371" width="3" height="60" fill="#26a69a"/>
<rect x="1140" y="328" width="1" height="50" fill="#3aa99d"/><rect x="1139" y="334" width="3" height="40" fill="#26a69a"/>
<rect x="1144" y="323" width="1" height="59" fill="#e85c5a"/><rect x="1143" y="334" width="3" height="35" fill="#ef5350"/>
<rect x="1148" y="350" width="1" height="37" fill="#3aa99d"/><rect x="1147" y="359" width="3" height="10" fill="#26a69a"/>
<rect x="1152" y="251" width="1" height="116" fill="#3aa99d"/><rect x="1151" y="255" width="3" height="105" fill="#26a69a"/>
<rect x="1156" y="236" width="1" height="56" fill="#e85c5a"/><rect x="1155" y="255" width="3" height="12" fill="#ef5350"/>
<rect x="1161" y="246" width="1" height="46" fill="#e85c5a"/><rect x="1160" y="266" width="3" height="20" fill="#ef5350"/>
<rect x="1165" y="268" width="1" height="40" fill="#e85c5a"/><rect x="1164" y="285" width="3" height="13" fill="#ef5350"/>
<rect x="1169" y="251" width="1" height="68" fill="#e85c5a"/><rect x="1168" y="297" width="3" height="20" fill="#ef5350"/>
<rect x="1173" y="260" width="1" height="64" fill="#3aa99d"/><rect x="1172" y="272" width="3" height="45" fill="#26a69a"/>
<rect x="1177" y="251" width="1" height="41" fill="#3aa99d"/><rect x="1176" y="270" width="3" height="2" fill="#26a69a"/>
<rect x="1181" y="245" width="1" height="115" fill="#e85c5a"/><rect x="1180" y="270" width="3" height="62" fill="#ef5350"/>
<rect x="1186" y="311" width="1" height="44" fill="#e85c5a"/><rect x="1185" y="331" width="3" height="1" fill="#ef5350"/>
<rect x="1190" y="307" width="1" height="27" fill="#3aa99d"/><rect x="1189" y="323" width="3" height="10" fill="#26a69a"/>
<rect x="1194" y="309" width="1" height="21" fill="#e85c5a"/><rect x="1193" y="323" width="3" height="6" fill="#ef5350"/>
<rect x="1198" y="325" width="1" height="50" fill="#e85c5a"/><rect x="1197" y="328" width="3" height="10" fill="#ef5350"/>
<rect x="1202" y="330" width="1" height="74" fill="#e85c5a"/><rect x="1201" y="336" width="3" height="66" fill="#ef5350"/>
<rect x="1206" y="358" width="1" height="55" fill="#3aa99d"/><rect x="1205" y="371" width="3" height="31" fill="#26a69a"/>
<rect x="1211" y="370" width="1" height="36" fill="#e85c5a"/><rect x="1210" y="371" width="3" height="33" fill="#ef5350"/>
<rect x="1215" y="323" width="1" height="103" fill="#3aa99d"/><rect x="1214" y="333" width="3" height="71" fill="#26a69a"/>
<rect x="1219" y="331" width="1" height="35" fill="#e85c5a"/><rect x="1218" y="333" width="3" height="9" fill="#ef5350"/>
<rect x="1223" y="316" width="1" height="44" fill="#e85c5a"/><rect x="1222" y="342" width="3" height="6" fill="#ef5350"/>
<rect x="1227" y="339" width="1" height="73" fill="#e85c5a"/><rect x="1226" y="348" width="3" height="54" fill="#ef5350"/>
<rect x="1231" y="330" width="1" height="75" fill="#3aa99d"/><rect x="1230" y="352" width="3" height="50" fill="#26a69a"/>
<rect x="1236" y="343" width="1" height="25" fill="#e85c5a"/><rect x="1235" y="352" width="3" height="15" fill="#ef5350"/>
<rect x="1240" y="348" width="1" height="26" fill="#e85c5a"/><rect x="1239" y="366" width="3" height="1" fill="#ef5350"/>
<rect x="1244" y="364" width="1" height="62" fill="#e85c5a"/><rect x="1243" y="367" width="3" height="47" fill="#ef5350"/>
<rect x="1248" y="408" width="1" height="24" fill="#e85c5a"/><rect x="1247" y="412" width="3" height="2" fill="#ef5350"/>
<rect x="1252" y="397" width="1" height="31" fill="#e85c5a"/><rect x="1251" y="413" width="3" height="14" fill="#ef5350"/>
<rect x="1257" y="408" width="1" height="43" fill="#e85c5a"/><rect x="1256" y="427" width="3" height="6" fill="#ef5350"/>
<rect x="1261" y="398" width="1" height="37" fill="#3aa99d"/><rect x="1260" y="400" width="3" height="33" fill="#26a69a"/>
<rect x="1265" y="393" width="1" height="23" fill="#e85c5a"/><rect x="1264" y="400" width="3" height="6" fill="#ef5350"/>
<rect x="1269" y="398" width="1" height="25" fill="#e85c5a"/><rect x="1268" y="405" width="3" height="17" fill="#ef5350"/>
<rect x="1273" y="392" width="1" height="33" fill="#3aa99d"/><rect x="1272" y="414" width="3" height="8" fill="#26a69a"/>
<rect x="1277" y="409" width="1" height="12" fill="#e85c5a"/><rect x="1276" y="414" width="3" height="2" fill="#ef5350"/>
<rect x="1282" y="379" width="1" height="38" fill="#3aa99d"/><rect x="1281" y="395" width="3" height="21" fill="#26a69a"/>
<rect x="1286" y="357" width="1" height="42" fill="#3aa99d"/><rect x="1285" y="366" width="3" height="30" fill="#26a69a"/>
<rect x="1290" y="346" width="1" height="31" fill="#e85c5a"/><rect x="1289" y="366" width="3" height="8" fill="#ef5350"/>
<rect x="1294" y="349" width="1" height="26" fill="#3aa99d"/><rect x="1293" y="361" width="3" height="13" fill="#26a69a"/>
<rect x="1298" y="341" width="1" height="30" fill="#3aa99d"/><rect x="1297" y="343" width="3" height="19" fill="#26a69a"/>
<rect x="1302" y="313" width="1" height="37" fill="#3aa99d"/><rect x="1301" y="322" width="3" height="23" fill="#26a69a"/>
<rect x="1307" y="298" width="1" height="30" fill="#3aa99d"/><rect x="1306" y="318" width="3" height="6" fill="#26a69a"/>
<rect x="1311" y="316" width="1" height="37" fill="#e85c5a"/><rect x="1310" y="318" width="3" height="30" fill="#ef5350"/>
<rect x="1315" y="335" width="1" height="36" fill="#e85c5a"/><rect x="1314" y="347" width="3" height="11" fill="#ef5350"/>
<rect x="1319" y="338" width="1" height="28" fill="#3aa99d"/><rect x="1318" y="344" width="3" height="14" fill="#26a69a"/>
<rect x="1323" y="322" width="1" height="39" fill="#3aa99d"/><rect x="1322" y="330" width="3" height="15" fill="#26a69a"/>
<rect x="1327" y="312" width="1" height="26" fill="#e85c5a"/><rect x="1326" y="330" width="3" height="4" fill="#ef5350"/>
<rect x="1332" y="326" width="1" height="37" fill="#e85c5a"/><rect x="1331" y="333" width="3" height="27" fill="#ef5350"/>
<rect x="1336" y="353" width="1" height="13" fill="#e85c5a"/><rect x="1335" y="359" width="3" height="5" fill="#ef5350"/>
<rect x="1340" y="352" width="1" height="19" fill="#e85c5a"/><rect x="1339" y="363" width="3" height="4" fill="#ef5350"/>
<rect x="1344" y="364" width="1" height="87" fill="#e85c5a"/><rect x="1343" y="365" width="3" height="47" fill="#ef5350"/>
<rect x="1348" y="389" width="1" height="31" fill="#e85c5a"/><rect x="1347" y="403" width="3" height="9" fill="#ef5350"/>
<rect x="1353" y="358" width="1" height="64" fill="#3aa99d"/><rect x="1352" y="380" width="3" height="32" fill="#26a69a"/>
<rect x="1357" y="373" width="1" height="70" fill="#e85c5a"/><rect x="1356" y="380" width="3" height="58" fill="#ef5350"/>
<rect x="1361" y="416" width="1" height="35" fill="#3aa99d"/><rect x="1360" y="424" width="3" height="14" fill="#26a69a"/>
<rect x="1365" y="410" width="1" height="20" fill="#3aa99d"/><rect x="1364" y="418" width="3" height="7" fill="#26a69a"/>
<rect x="1369" y="396" width="1" height="34" fill="#3aa99d"/><rect x="1368" y="398" width="3" height="21" fill="#26a69a"/>
<rect x="1373" y="379" width="1" height="26" fill="#3aa99d"/><rect x="1372" y="392" width="3" height="7" fill="#26a69a"/>
<rect x="1378" y="385" width="1" height="30" fill="#e85c5a"/><rect x="1377" y="392" width="3" height="13" fill="#ef5350"/>
<rect x="1382" y="368" width="1" height="48" fill="#3aa99d"/><rect x="1381" y="372" width="3" height="33" fill="#26a69a"/>
<rect x="1386" y="325" width="1" height="50" fill="#3aa99d"/><rect x="1385" y="344" width="3" height="30" fill="#26a69a"/>
<rect x="1390" y="327" width="1" height="30" fill="#3aa99d"/><rect x="1389" y="342" width="3" height="2" fill="#26a69a"/>
<rect x="1394" y="339" width="1" height="36" fill="#e85c5a"/><rect x="1393" y="342" width="3" height="25" fill="#ef5350"/>
<rect x="1398" y="334" width="1" height="38" fill="#3aa99d"/><rect x="1397" y="366" width="3" height="1" fill="#26a69a"/>
<rect x="1403" y="340" width="1" height="30" fill="#3aa99d"/><rect x="1402" y="360" width="3" height="7" fill="#26a69a"/>
<rect x="1407" y="356" width="1" height="49" fill="#e85c5a"/><rect x="1406" y="360" width="3" height="44" fill="#ef5350"/>
<rect x="1411" y="380" width="1" height="30" fill="#3aa99d"/><rect x="1410" y="394" width="3" height="10" fill="#26a69a"/>
<rect x="1415" y="394" width="1" height="34" fill="#e85c5a"/><rect x="1414" y="394" width="3" height="25" fill="#ef5350"/>
<rect x="1419" y="406" width="1" height="499" fill="#e85c5a"/><rect x="1418" y="418" width="3" height="136" fill="#ef5350"/>
<rect x="1423" y="512" width="1" height="65" fill="#3aa99d"/><rect x="1422" y="551" width="3" height="3" fill="#26a69a"/>
<rect x="1428" y="498" width="1" height="74" fill="#3aa99d"/><rect x="1427" y="505" width="3" height="47" fill="#26a69a"/>
<rect x="1432" y="468" width="1" height="42" fill="#3aa99d"/><rect x="1431" y="480" width="3" height="26" fill="#26a69a"/>
<rect x="1436" y="475" width="1" height="74" fill="#e85c5a"/><rect x="1435" y="480" width="3" height="34" fill="#ef5350"/>
<rect x="1440" y="498" width="1" height="55" fill="#e85c5a"/><rect x="1439" y="513" width="3" height="30" fill="#ef5350"/>
<rect x="1444" y="524" width="1" height="58" fill="#e85c5a"/><rect x="1443" y="542" width="3" height="26" fill="#ef5350"/>
<rect x="1448" y="545" width="1" height="66" fill="#e85c5a"/><rect x="1447" y="568" width="3" height="12" fill="#ef5350"/>
<rect x="1453" y="548" width="1" height="33" fill="#3aa99d"/><rect x="1452" y="558" width="3" height="22" fill="#26a69a"/>
<rect x="1457" y="539" width="1" height="33" fill="#3aa99d"/><rect x="1456" y="548" width="3" height="11" fill="#26a69a"/>
<rect x="1461" y="497" width="1" height="60" fill="#3aa99d"/><rect x="1460" y="515" width="3" height="33" fill="#26a69a"/>
<rect x="1465" y="504" width="1" height="41" fill="#e85c5a"/><rect x="1464" y="515" width="3" height="23" fill="#ef5350"/>
<rect x="1469" y="533" width="1" height="36" fill="#e85c5a"/><rect x="1468" y="538" width="3" height="19" fill="#ef5350"/>
<rect x="1474" y="537" width="1" height="21" fill="#3aa99d"/><rect x="1473" y="547" width="3" height="10" fill="#26a69a"/>
<rect x="1478" y="509" width="1" height="41" fill="#3aa99d"/><rect x="1477" y="510" width="3" height="38" fill="#26a69a"/>
<rect x="1482" y="464" width="1" height="48" fill="#3aa99d"/><rect x="1481" y="482" width="3" height="29" fill="#26a69a"/>
<rect x="1486" y="461" width="1" height="24" fill="#3aa99d"/><rect x="1485" y="468" width="3" height="16" fill="#26a69a"/>
<rect x="1490" y="451" width="1" height="29" fill="#e85c5a"/><rect x="1489" y="468" width="3" height="4" fill="#ef5350"/>
<rect x="1494" y="454" width="1" height="38" fill="#e85c5a"/><rect x="1493" y="471" width="3" height="10" fill="#ef5350"/>
<rect x="1499" y="461" width="1" height="42" fill="#e85c5a"/><rect x="1498" y="481" width="3" height="18" fill="#ef5350"/>
<rect x="1503" y="483" width="1" height="69" fill="#e85c5a"/><rect x="1502" y="498" width="3" height="35" fill="#ef5350"/>
<rect x="1507" y="495" width="1" height="40" fill="#3aa99d"/><rect x="1506" y="510" width="3" height="23" fill="#26a69a"/>
<rect x="1511" y="506" width="1" height="15" fill="#e85c5a"/><rect x="1510" y="510" width="3" height="3" fill="#ef5350"/>
<rect x="1515" y="496" width="1" height="25" fill="#3aa99d"/><rect x="1514" y="504" width="3" height="9" fill="#26a69a"/>
<rect x="1519" y="502" width="1" height="86" fill="#e85c5a"/><rect x="1518" y="504" width="3" height="71" fill="#ef5350"/>
<rect x="1524" y="556" width="1" height="94" fill="#e85c5a"/><rect x="1523" y="574" width="3" height="33" fill="#ef5350"/>
<rect x="1528" y="552" width="1" height="88" fill="#3aa99d"/><rect x="1527" y="563" width="3" height="44" fill="#26a69a"/>
<rect x="1532" y="542" width="1" height="73" fill="#e85c5a"/><rect x="1531" y="563" width="3" height="43" fill="#ef5350"/>
<rect x="1536" y="552" width="1" height="71" fill="#3aa99d"/><rect x="1535" y="572" width="3" height="34" fill="#26a69a"/>
<rect x="1540" y="565" width="1" height="29" fill="#e85c5a"/><rect x="1539" y="572" width="3" height="10" fill="#ef5350"/>
<rect x="1544" y="548" width="1" height="48" fill="#3aa99d"/><rect x="1543" y="556" width="3" height="26" fill="#26a69a"/>
<rect x="1549" y="488" width="1" height="74" fill="#3aa99d"/><rect x="1548" y="504" width="3" height="53" fill="#26a69a"/>
<rect x="1553" y="504" width="1" height="48" fill="#e85c5a"/><rect x="1552" y="504" width="3" height="45" fill="#ef5350"/>
<rect x="1557" y="530" width="1" height="42" fill="#e85c5a"/><rect x="1556" y="548" width="3" height="2" fill="#ef5350"/>
<rect x="1561" y="499" width="1" height="84" fill="#e85c5a"/><rect x="1560" y="549" width="3" height="22" fill="#ef5350"/>
<rect x="1565" y="565" width="1" height="35" fill="#e85c5a"/><rect x="1564" y="570" width="3" height="25" fill="#ef5350"/>
<rect x="1570" y="576" width="1" height="28" fill="#e85c5a"/><rect x="1569" y="594" width="3" height="2" fill="#ef5350"/>
<rect x="1574" y="582" width="1" height="40" fill="#e85c5a"/><rect x="1573" y="596" width="3" height="8" fill="#ef5350"/>
<rect x="1578" y="574" width="1" height="60" fill="#e85c5a"/><rect x="1577" y="603" width="3" height="18" fill="#ef5350"/>
<rect x="1582" y="595" width="1" height="42" fill="#3aa99d"/><rect x="1581" y="603" width="3" height="18" fill="#26a69a"/>
<rect x="1586" y="601" width="1" height="62" fill="#e85c5a"/><rect x="1585" y="603" width="3" height="34" fill="#ef5350"/>
<rect x="1590" y="624" width="1" height="55" fill="#e85c5a"/><rect x="1589" y="636" width="3" height="36" fill="#ef5350"/>
<rect x="1595" y="661" width="1" height="67" fill="#e85c5a"/><rect x="1594" y="671" width="3" height="17" fill="#ef5350"/>
<rect x="1599" y="681" width="1" height="25" fill="#3aa99d"/><rect x="1598" y="687" width="3" height="1" fill="#26a69a"/>
<rect x="1603" y="644" width="1" height="45" fill="#3aa99d"/><rect x="1602" y="656" width="3" height="32" fill="#26a69a"/>
<rect x="1607" y="582" width="1" height="82" fill="#3aa99d"/><rect x="1606" y="599" width="3" height="58" fill="#26a69a"/>
<rect x="1611" y="586" width="1" height="38" fill="#e85c5a"/><rect x="1610" y="599" width="3" height="8" fill="#ef5350"/>
<rect x="1615" y="590" width="1" height="36" fill="#3aa99d"/><rect x="1614" y="601" width="3" height="6" fill="#26a69a"/>
<rect x="1620" y="598" width="1" height="18" fill="#e85c5a"/><rect x="1619" y="601" width="3" height="8" fill="#ef5350"/>
<rect x="1624" y="584" width="1" height="38" fill="#e85c5a"/><rect x="1623" y="608" width="3" height="8" fill="#ef5350"/>
<rect x="1628" y="602" width="1" height="16" fill="#3aa99d"/><rect x="1627" y="608" width="3" height="8" fill="#26a69a"/>
<rect x="1632" y="603" width="1" height="21" fill="#e85c5a"/><rect x="1631" y="608" width="3" height="15" fill="#ef5350"/>
<rect x="1636" y="620" width="1" height="56" fill="#e85c5a"/><rect x="1635" y="622" width="3" height="41" fill="#ef5350"/>
<rect x="1640" y="613" width="1" height="60" fill="#3aa99d"/><rect x="1639" y="623" width="3" height="40" fill="#26a69a"/>
<rect x="1645" y="602" width="1" height="25" fill="#3aa99d"/><rect x="1644" y="609" width="3" height="15" fill="#26a69a"/>
<rect x="1649" y="605" width="1" height="44" fill="#e85c5a"/><rect x="1648" y="609" width="3" height="33" fill="#ef5350"/>
<rect x="1653" y="636" width="1" height="31" fill="#e85c5a"/><rect x="1652" y="641" width="3" height="20" fill="#ef5350"/>
<rect x="1657" y="655" width="1" height="11" fill="#e85c5a"/><rect x="1656" y="660" width="3" height="2" fill="#ef5350"/>
<rect x="1661" y="636" width="1" height="38" fill="#3aa99d"/><rect x="1660" y="657" width="3" height="5" fill="#26a69a"/>
<rect x="1665" y="632" width="1" height="29" fill="#3aa99d"/><rect x="1664" y="648" width="3" height="10" fill="#26a69a"/>
<rect x="1670" y="620" width="1" height="30" fill="#3aa99d"/><rect x="1669" y="638" width="3" height="11" fill="#26a69a"/>
<rect x="1674" y="637" width="1" height="23" fill="#e85c5a"/><rect x="1673" y="638" width="3" height="21" fill="#ef5350"/>
<rect x="1678" y="653" width="1" height="25" fill="#e85c5a"/><rect x="1677" y="658" width="3" height="2" fill="#ef5350"/>
<rect x="1682" y="656" width="1" height="25" fill="#e85c5a"/><rect x="1681" y="659" width="3" height="12" fill="#ef5350"/>
<rect x="1686" y="656" width="1" height="15" fill="#3aa99d"/><rect x="1685" y="664" width="3" height="6" fill="#26a69a"/>
<rect x="1691" y="661" width="1" height="24" fill="#e85c5a"/><rect x="1690" y="664" width="3" height="15" fill="#ef5350"/>
<rect x="1695" y="667" width="1" height="45" fill="#e85c5a"/><rect x="1694" y="678" width="3" height="26" fill="#ef5350"/>
<rect x="1699" y="687" width="1" height="31" fill="#3aa99d"/><rect x="1698" y="693" width="3" height="11" fill="#26a69a"/>
<rect x="1703" y="675" width="1" height="45" fill="#e85c5a"/><rect x="1702" y="693" width="3" height="22" fill="#ef5350"/>
<rect x="1707" y="692" width="1" height="42" fill="#e85c5a"/><rect x="1706" y="714" width="3" height="19" fill="#ef5350"/>
<rect x="1711" y="696" width="1" height="47" fill="#3aa99d"/><rect x="1710" y="700" width="3" height="33" fill="#26a69a"/>
<rect x="1716" y="684" width="1" height="21" fill="#3aa99d"/><rect x="1715" y="692" width="3" height="8" fill="#26a69a"/>
<rect x="1720" y="687" width="1" height="17" fill="#e85c5a"/><rect x="1719" y="692" width="3" height="5" fill="#ef5350"/>
<rect x="1724" y="687" width="1" height="18" fill="#e85c5a"/><rect x="1723" y="696" width="3" height="6" fill="#ef5350"/>
<rect x="1728" y="698" width="1" height="16" fill="#e85c5a"/><rect x="1727" y="701" width="3" height="11" fill="#ef5350"/>
<rect x="1732" y="709" width="1" height="13" fill="#e85c5a"/><rect x="1731" y="711" width="3" height="4" fill="#ef5350"/>
<rect x="1736" y="706" width="1" height="20" fill="#e85c5a"/><rect x="1735" y="714" width="3" height="11" fill="#ef5350"/>
<rect x="1741" y="708" width="1" height="18" fill="#3aa99d"/><rect x="1740" y="720" width="3" height="5" fill="#26a69a"/>
<rect x="1745" y="709" width="1" height="12" fill="#3aa99d"/><rect x="1744" y="711" width="3" height="10" fill="#26a69a"/>
<rect x="1749" y="709" width="1" height="8" fill="#e85c5a"/><rect x="1748" y="711" width="3" height="4" fill="#ef5350"/>
<rect x="1753" y="697" width="1" height="23" fill="#e85c5a"/><rect x="1752" y="713" width="3" height="6" fill="#ef5350"/>
<rect x="1757" y="707" width="1" height="13" fill="#3aa99d"/><rect x="1756" y="710" width="3" height="9" fill="#26a69a"/>
<rect x="1761" y="708" width="1" height="22" fill="#e85c5a"/><rect x="1760" y="710" width="3" height="12" fill="#ef5350"/>
<rect x="1766" y="709" width="1" height="17" fill="#3aa99d"/><rect x="1765" y="709" width="3" height="13" fill="#26a69a"/>
<rect x="1770" y="661" width="1" height="51" fill="#3aa99d"/><rect x="1769" y="669" width="3" height="41" fill="#26a69a"/>
<rect x="1774" y="653" width="1" height="24" fill="#3aa99d"/><rect x="1773" y="665" width="3" height="5" fill="#26a69a"/>
<rect x="1778" y="633" width="1" height="33" fill="#3aa99d"/><rect x="1777" y="642" width="3" height="24" fill="#26a69a"/>
<rect x="1782" y="555" width="1" height="90" fill="#3aa99d"/><rect x="1781" y="562" width="3" height="82" fill="#26a69a"/>
<rect x="1787" y="540" width="1" height="67" fill="#e85c5a"/><rect x="1786" y="562" width="3" height="14" fill="#ef5350"/>
<rect x="1791" y="570" width="1" height="53" fill="#e85c5a"/><rect x="1790" y="575" width="3" height="46" fill="#ef5350"/>
<rect x="1795" y="610" width="1" height="41" fill="#e85c5a"/><rect x="1794" y="619" width="3" height="14" fill="#ef5350"/>
<rect x="1799" y="619" width="1" height="29" fill="#e85c5a"/><rect x="1798" y="632" width="3" height="10" fill="#ef5350"/>
<rect x="1803" y="637" width="1" height="9" fill="#e85c5a"/><rect x="1802" y="641" width="3" height="4" fill="#ef5350"/>
<rect x="1807" y="636" width="1" height="20" fill="#e85c5a"/><rect x="1806" y="643" width="3" height="6" fill="#ef5350"/>
<rect x="1812" y="638" width="1" height="22" fill="#e85c5a"/><rect x="1811" y="648" width="3" height="7" fill="#ef5350"/>
<rect x="1816" y="613" width="1" height="43" fill="#3aa99d"/><rect x="1815" y="618" width="3" height="37" fill="#26a69a"/>
<rect x="1820" y="611" width="1" height="25" fill="#e85c5a"/><rect x="1819" y="619" width="3" height="9" fill="#ef5350"/>
<rect x="1824" y="626" width="1" height="28" fill="#e85c5a"/><rect x="1823" y="626" width="3" height="21" fill="#ef5350"/>
<rect x="1828" y="644" width="1" height="19" fill="#e85c5a"/><rect x="1827" y="646" width="3" height="5" fill="#ef5350"/>
<rect x="1832" y="645" width="1" height="9" fill="#e85c5a"/><rect x="1831" y="650" width="3" height="3" fill="#ef5350"/>
<rect x="1837" y="650" width="1" height="25" fill="#e85c5a"/><rect x="1836" y="651" width="3" height="24" fill="#ef5350"/>
<rect x="1841" y="662" width="1" height="57" fill="#e85c5a"/><rect x="1840" y="674" width="3" height="3" fill="#ef5350"/>
<rect x="1845" y="674" width="1" height="38" fill="#e85c5a"/><rect x="1844" y="675" width="3" height="32" fill="#ef5350"/>
<rect x="1849" y="674" width="1" height="38" fill="#3aa99d"/><rect x="1848" y="688" width="3" height="19" fill="#26a69a"/>
<rect x="1853" y="681" width="1" height="21" fill="#e85c5a"/><rect x="1852" y="688" width="3" height="8" fill="#ef5350"/>
<rect x="1857" y="682" width="1" height="25" fill="#e85c5a"/><rect x="1856" y="695" width="3" height="2" fill="#ef5350"/>
<rect x="1862" y="694" width="1" height="6" fill="#e85c5a"/><rect x="1861" y="696" width="3" height="3" fill="#ef5350"/>
<rect x="1866" y="697" width="1" height="34" fill="#e85c5a"/><rect x="1865" y="698" width="3" height="26" fill="#ef5350"/>
<rect x="1870" y="688" width="1" height="37" fill="#3aa99d"/><rect x="1869" y="701" width="3" height="23" fill="#26a69a"/>
<rect x="1874" y="693" width="1" height="18" fill="#3aa99d"/><rect x="1873" y="698" width="3" height="4" fill="#26a69a"/>
<rect x="1878" y="689" width="1" height="15" fill="#e85c5a"/><rect x="1877" y="698" width="3" height="2" fill="#ef5350"/>
<rect x="1883" y="698" width="1" height="43" fill="#e85c5a"/><rect x="1882" y="699" width="3" height="35" fill="#ef5350"/>
<rect x="1887" y="730" width="1" height="32" fill="#e85c5a"/><rect x="1886" y="732" width="3" height="24" fill="#ef5350"/>
<rect x="1891" y="748" width="1" height="80" fill="#e85c5a"/><rect x="1890" y="754" width="3" height="29" fill="#ef5350"/>
<rect x="1895" y="772" width="1" height="40" fill="#e85c5a"/><rect x="1894" y="782" width="3" height="19" fill="#ef5350"/>
<rect x="1899" y="779" width="1" height="40" fill="#3aa99d"/><rect x="1898" y="791" width="3" height="10" fill="#26a69a"/>
<rect x="1903" y="786" width="1" height="34" fill="#e85c5a"/><rect x="1902" y="791" width="3" height="14" fill="#ef5350"/>
<rect x="1908" y="793" width="1" height="37" fill="#e85c5a"/><rect x="1907" y="804" width="3" height="22" fill="#ef5350"/>
<rect x="1912" y="824" width="1" height="30" fill="#e85c5a"/><rect x="1911" y="825" width="3" height="24" fill="#ef5350"/>
<rect x="92.5" y="848.7" width="2003" height="48.6" fill="rgba(178,235,242,0.26)" stroke="#289cab" stroke-width="1.6"/>
<line x1="854" y1="26.9" x2="2096" y2="720.4" stroke="#1fe3d3" stroke-width="2"/>
<line x1="751" y1="242.7" x2="2096" y2="993.9" stroke="#1fe3d3" stroke-width="2" stroke-linecap="round"/>
<line x1="751.6" y1="105.9" x2="2096" y2="857.7" stroke="#3ce0c2" stroke-width="2.1" stroke-dasharray="2 4"/>
</g>
<text x="18.4" y="47.2" font-size="12.6" fill="#bcbfc8"><tspan id="lg1" textLength="140" lengthAdjust="spacingAndGlyphs">MA Cross · 1D (100, 200)</tspan></text>
<text x="166" y="47.2" font-size="12.6" fill="#5b9cf6" textLength="39.5" lengthAdjust="spacingAndGlyphs">2.0529</text>
<text x="213" y="47.2" font-size="12.6" fill="#f28c1c" textLength="37.5" lengthAdjust="spacingAndGlyphs">2.4771</text>
<text x="2103.6" y="76.9" font-size="12.4" fill="#b6b9c2" textLength="39.4" lengthAdjust="spacingAndGlyphs">3.9000</text>
<text x="2103.6" y="108.4" font-size="12.4" fill="#b6b9c2" textLength="39.4" lengthAdjust="spacingAndGlyphs">3.8000</text>
<text x="2103.6" y="139.9" font-size="12.4" fill="#b6b9c2" textLength="39.4" lengthAdjust="spacingAndGlyphs">3.7000</text>
<text x="2103.6" y="171.4" font-size="12.4" fill="#b6b9c2" textLength="39.4" lengthAdjust="spacingAndGlyphs">3.6000</text>
<text x="2103.6" y="202.8" font-size="12.4" fill="#b6b9c2" textLength="39.4" lengthAdjust="spacingAndGlyphs">3.5000</text>
<text x="2103.6" y="234.3" font-size="12.4" fill="#b6b9c2" textLength="39.4" lengthAdjust="spacingAndGlyphs">3.4000</text>
<text x="2103.6" y="265.8" font-size="12.4" fill="#b6b9c2" textLength="39.4" lengthAdjust="spacingAndGlyphs">3.3000</text>
<text x="2103.6" y="297.3" font-size="12.4" fill="#b6b9c2" textLength="39.4" lengthAdjust="spacingAndGlyphs">3.2000</text>
<text x="2103.6" y="328.8" font-size="12.4" fill="#b6b9c2" textLength="39.4" lengthAdjust="spacingAndGlyphs">3.1000</text>
<text x="2103.6" y="360.3" font-size="12.4" fill="#b6b9c2" textLength="39.4" lengthAdjust="spacingAndGlyphs">3.0000</text>
<text x="2103.6" y="391.8" font-size="12.4" fill="#b6b9c2" textLength="39.4" lengthAdjust="spacingAndGlyphs">2.9000</text>
<text x="2103.6" y="423.2" font-size="12.4" fill="#b6b9c2" textLength="39.4" lengthAdjust="spacingAndGlyphs">2.8000</text>
<text x="2103.6" y="454.7" font-size="12.4" fill="#b6b9c2" textLength="39.4" lengthAdjust="spacingAndGlyphs">2.7000</text>
<text x="2103.6" y="486.2" font-size="12.4" fill="#b6b9c2" textLength="39.4" lengthAdjust="spacingAndGlyphs">2.6000</text>
<text x="2103.6" y="517.7" font-size="12.4" fill="#b6b9c2" textLength="39.4" lengthAdjust="spacingAndGlyphs">2.5000</text>
<text x="2103.6" y="549.2" font-size="12.4" fill="#b6b9c2" textLength="39.4" lengthAdjust="spacingAndGlyphs">2.4000</text>
<text x="2103.6" y="580.7" font-size="12.4" fill="#b6b9c2" textLength="39.4" lengthAdjust="spacingAndGlyphs">2.3000</text>
<text x="2103.6" y="612.2" font-size="12.4" fill="#b6b9c2" textLength="39.4" lengthAdjust="spacingAndGlyphs">2.2000</text>
<text x="2103.6" y="643.7" font-size="12.4" fill="#b6b9c2" textLength="39.4" lengthAdjust="spacingAndGlyphs">2.1000</text>
<text x="2103.6" y="675.1" font-size="12.4" fill="#b6b9c2" textLength="39.4" lengthAdjust="spacingAndGlyphs">2.0000</text>
<text x="2103.6" y="706.6" font-size="12.4" fill="#b6b9c2" textLength="39.4" lengthAdjust="spacingAndGlyphs">1.9000</text>
<text x="2103.6" y="738.1" font-size="12.4" fill="#b6b9c2" textLength="39.4" lengthAdjust="spacingAndGlyphs">1.8000</text>
<text x="2103.6" y="769.6" font-size="12.4" fill="#b6b9c2" textLength="39.4" lengthAdjust="spacingAndGlyphs">1.7000</text>
<text x="2103.6" y="801.1" font-size="12.4" fill="#b6b9c2" textLength="39.4" lengthAdjust="spacingAndGlyphs">1.6000</text>
<text x="2103.6" y="832.6" font-size="12.4" fill="#b6b9c2" textLength="39.4" lengthAdjust="spacingAndGlyphs">1.5000</text>
<text x="2103.6" y="895.5" font-size="12.4" fill="#b6b9c2" textLength="39.4" lengthAdjust="spacingAndGlyphs">1.3000</text>
<text x="2103.6" y="927.0" font-size="12.4" fill="#b6b9c2" textLength="39.4" lengthAdjust="spacingAndGlyphs">1.2000</text>
<text x="2103.6" y="958.5" font-size="12.4" fill="#b6b9c2" textLength="39.4" lengthAdjust="spacingAndGlyphs">1.1000</text>
<text x="2103.6" y="990.0" font-size="12.4" fill="#b6b9c2" textLength="39.4" lengthAdjust="spacingAndGlyphs">1.0000</text>
<text x="2103.6" y="1021.5" font-size="12.4" fill="#b6b9c2" textLength="39.4" lengthAdjust="spacingAndGlyphs">0.9000</text>
<text x="2103.6" y="1053.0" font-size="12.4" fill="#b6b9c2" textLength="39.4" lengthAdjust="spacingAndGlyphs">0.8000</text>
<text x="2103.6" y="1084.5" font-size="12.4" fill="#b6b9c2" textLength="39.4" lengthAdjust="spacingAndGlyphs">0.7000</text>
<text x="2103.6" y="1115.9" font-size="12.4" fill="#b6b9c2" textLength="39.4" lengthAdjust="spacingAndGlyphs">0.6000</text>
<text x="2103.6" y="1147.4" font-size="12.4" fill="#b6b9c2" textLength="39.4" lengthAdjust="spacingAndGlyphs">0.5000</text>
<text x="2103.6" y="1178.9" font-size="12.4" fill="#b6b9c2" textLength="39.4" lengthAdjust="spacingAndGlyphs">0.4000</text>
<text x="2103.6" y="1210.4" font-size="12.4" fill="#b6b9c2" textLength="39.4" lengthAdjust="spacingAndGlyphs">0.3000</text>
<rect x="2098" y="31" width="64" height="26" rx="4.5" fill="#0e0e0f" stroke="#363a45" stroke-width="1"/>
<text x="2107.6" y="47.8" font-size="12.6" fill="#f0f0f0" textLength="31.5" lengthAdjust="spacingAndGlyphs">USDT</text>
<rect x="2095" y="841" width="66.2" height="31" rx="2" fill="#5d606b"/>
<text x="2104.5" y="853.6" font-size="12.4" fill="#ffffff" textLength="39.2" lengthAdjust="spacingAndGlyphs">1.4337</text>
<text x="2104.5" y="868" font-size="12.4" fill="#e6e7ea" textLength="51" lengthAdjust="spacingAndGlyphs">15:50:59</text>
<text x="112.7" y="1255.6" font-size="12.4" fill="#b6b9c2" text-anchor="middle">Dec</text>
<text x="242.1" y="1255.6" font-size="12.4" fill="#b6b9c2" text-anchor="middle" font-weight="bold" textLength="31.4" lengthAdjust="spacingAndGlyphs">2025</text>
<text x="371.5" y="1255.6" font-size="12.4" fill="#b6b9c2" text-anchor="middle">Feb</text>
<text x="488.3" y="1255.6" font-size="12.4" fill="#b6b9c2" text-anchor="middle">Mar</text>
<text x="617.7" y="1255.6" font-size="12.4" fill="#b6b9c2" text-anchor="middle">Apr</text>
<text x="742.9" y="1255.6" font-size="12.4" fill="#b6b9c2" text-anchor="middle">May</text>
<text x="872.3" y="1255.6" font-size="12.4" fill="#b6b9c2" text-anchor="middle">Jun</text>
<text x="997.5" y="1255.6" font-size="12.4" fill="#b6b9c2" text-anchor="middle">Jul</text>
<text x="1126.9" y="1255.6" font-size="12.4" fill="#b6b9c2" text-anchor="middle">Aug</text>
<text x="1256.3" y="1255.6" font-size="12.4" fill="#b6b9c2" text-anchor="middle">Sep</text>
<text x="1381.5" y="1255.6" font-size="12.4" fill="#b6b9c2" text-anchor="middle">Oct</text>
<text x="1510.9" y="1255.6" font-size="12.4" fill="#b6b9c2" text-anchor="middle">Nov</text>
<text x="1636.1" y="1255.6" font-size="12.4" fill="#b6b9c2" text-anchor="middle">Dec</text>
<text x="1765.5" y="1255.6" font-size="12.4" fill="#b6b9c2" text-anchor="middle" font-weight="bold" textLength="31.4" lengthAdjust="spacingAndGlyphs">2026</text>
<text x="1894.9" y="1255.6" font-size="12.4" fill="#b6b9c2" text-anchor="middle">Feb</text>
<text x="2011.7" y="1255.6" font-size="12.4" fill="#b6b9c2" text-anchor="middle">Mar</text>
<g transform="translate(1912.6,1224.4)"><circle r="9.55" fill="none" stroke="#b65cc6" stroke-width="1.7"/><path d="M2.5,-4.8 L-4.5,0.25 L-0.25,0.85 L-3.4,5.1 L4.2,0 L0.1,-0.6 Z" fill="#b65cc6"/><circle cx="6.8" cy="-6.7" r="3.9" fill="#151924"/><circle cx="6.8" cy="-6.7" r="2.6" fill="#f23645"/></g>
<g fill="#e4e4e4"><path d="M12,1287.2 H24.2 V1301.9 H17.8 V1292.8 H12 Z"/><circle cx="29" cy="1289.9" r="2.7"/><path d="M34.4,1287.2 H41.6 L36,1301.9 H28.7 Z"/></g>
<text x="49.3" y="1301.9" font-size="20" font-weight="bold" fill="#e4e4e4" textLength="120.3" lengthAdjust="spacingAndGlyphs">TradingView</text>
</svg></body></html>
